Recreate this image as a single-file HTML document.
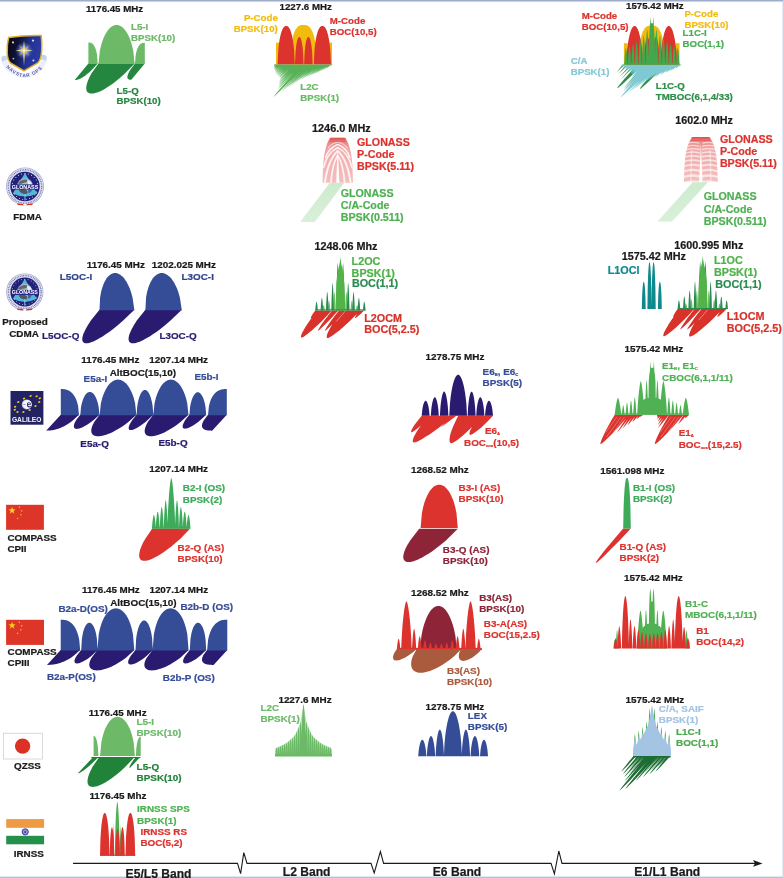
<!DOCTYPE html>
<html><head><meta charset="utf-8"><title>GNSS signal spectra</title>
<style>
html,body{margin:0;padding:0;background:#fff;}
body{width:783px;height:878px;overflow:hidden;position:relative;}
svg{position:absolute;left:0;top:0;display:block;will-change:transform;}
svg text{font-family:"Liberation Sans",Arial,Helvetica,sans-serif;font-weight:bold;stroke-width:0.22px;stroke-linejoin:round;}
</style></head><body>
<svg width="783" height="878" viewBox="0 0 783 878">
<defs>
<linearGradient id="topg" x1="0" y1="0" x2="0" y2="1"><stop offset="0" stop-color="#8799bb"/><stop offset="0.45" stop-color="#b9c7de"/><stop offset="1" stop-color="#ffffff"/></linearGradient>
</defs>
<rect x="0" y="0" width="783" height="878" fill="#ffffff"/>
<rect x="0" y="0" width="783" height="2.6" fill="url(#topg)"/>
<rect x="0" y="876.6" width="783" height="1.4" fill="#a9c6ea"/>
<rect x="782" y="2" width="1" height="875" fill="#e6ebf6"/>
<path d="M73,863.4 L237.5,863.4 L240.6,873.6 L243.8,852.6 L247,863.4 L371,863.4 L374.2,873 L380.4,851.6 L383.6,863.4 L551,863.4 L554.4,873.8 L558.8,851 L562,863.4 L756,863.4" fill="none" stroke="#1a1a1a" stroke-width="1.1" stroke-linejoin="miter"/>
<path d="M762.5,863.4 L753,860 L755,863.4 L753,866.8 Z" fill="#1a1a1a"/>
<text x="125.6" y="877.8" fill="#1a1a1a" stroke="#1a1a1a" font-size="12.1">E5/L5 Band</text>
<text x="282.8" y="875.8" fill="#1a1a1a" stroke="#1a1a1a" font-size="12.1">L2 Band</text>
<text x="432.8" y="875.5" fill="#1a1a1a" stroke="#1a1a1a" font-size="12.1">E6 Band</text>
<text x="634.3" y="875.5" fill="#1a1a1a" stroke="#1a1a1a" font-size="12.1">E1/L1 Band</text>
<g id="gpslogo">
<defs>
<linearGradient id="shg" x1="0" y1="0" x2="1" y2="0.25"><stop offset="0" stop-color="#08080e"/><stop offset="0.32" stop-color="#0e1030"/><stop offset="0.72" stop-color="#24339a"/><stop offset="1" stop-color="#2b3aa0"/></linearGradient>
<radialGradient id="shr" cx="0.5" cy="0.5" r="0.5"><stop offset="0" stop-color="#eef2ff" stop-opacity="0.95"/><stop offset="0.45" stop-color="#8fa6e8" stop-opacity="0.7"/><stop offset="1" stop-color="#3043a8" stop-opacity="0"/></radialGradient>
<path id="gpsarc" d="M5.6,66.8 Q11,72.6 17,75.2 Q24,78.6 33,75.2 Q41,71.6 47.6,61.5" fill="none"/>
</defs>
<path d="M1.2,57.5 Q3,54.8 6.5,55.8 L8,62 Q12,68.5 24,74.8 Q36,69.5 40.5,62.5 L41.6,55 Q45,53.6 46.8,56.8 Q47.4,62 43.5,67.5 Q36,76.5 24.5,78.2 Q12,76 5,68.2 Q1.6,63.5 1.2,57.5 Z" fill="#eceefa"/>
<path d="M1.4,57.6 Q3,55.2 6.3,56 L6.9,60 Q3.6,59.4 2.2,62.5 Z" fill="#c4d3ee"/>
<path d="M46.7,56.9 Q45,54 41.8,55.2 L41.2,59.6 Q44.2,58.8 46.2,61.8 Z" fill="#bcd6f0"/>
<path d="M8.6,37.6 Q24,35.2 41.2,35.6 Q42.4,47 41.2,55 Q40.4,60.6 37.4,63.2 L24,70.9 L10.4,63 Q7.4,59.6 7.2,53 Q6.8,45 8.6,37.6 Z" fill="url(#shg)" stroke="#e0b125" stroke-width="1.5" stroke-linejoin="round"/>
<circle cx="24.2" cy="50.6" r="9.2" fill="url(#shr)"/>
<path d="M24,40.5 L25,49.2 L33,50.4 L25,51.8 L24,66 L23,51.8 L15.4,50.4 L23,49.2 Z" fill="#e9d88e"/>
<path d="M18.4,44.6 L24,49.8 L29.8,44.8 L24.9,50.5 L29.6,56 L24,51.4 L18.6,56.2 L23.1,50.5 Z" fill="#d9c56a"/>
<circle cx="24" cy="50.5" r="1.3" fill="#fffbe6"/>
<circle cx="13" cy="42.4" r="1.1" fill="#d7c9c9"/><circle cx="33" cy="40.6" r="1.1" fill="#d9dcea"/>
<circle cx="13.4" cy="58.6" r="0.9" fill="#b9bdd2"/><circle cx="33.4" cy="60.4" r="1" fill="#cfd4ea"/>
<text font-size="4.7" fill="#5656ac" letter-spacing="0.85"><textPath href="#gpsarc" startOffset="0.4">NAVSTAR GPS</textPath></text>
</g>
<g transform="translate(25,186.5) scale(1)">
<circle r="19" fill="#a9afd0"/>
<circle r="18.2" fill="#e6e8f3"/>
<circle r="16.7" fill="none" stroke="#6f76ac" stroke-width="1.5" stroke-dasharray="0.9 0.8"/>
<circle r="15.4" fill="#d6d9ea"/>
<circle r="14.7" fill="#22207a"/>
<path d="M0,-13.6 L12.2,7.0 Q0,13.2 -12.2,7.0 Z" fill="#52b7dd"/>
<circle cx="0" cy="-0.3" r="8" fill="#a7bace"/>
<path d="M-7,-3.5 Q-3,-8.5 4,-6.5 Q1,-3 -2,-3.5 Q-5,-1.5 -7,-3.5Z" fill="#5d6a66"/>
<path d="M2,-6.8 Q7,-5 7.6,0 Q5,-2.5 3,-2 Z" fill="#e9eef5"/>
<path d="M-6.5,3.5 Q-2,1.5 2,4 Q4,6.5 1,7.6 Q-4,8 -6.5,3.5Z" fill="#4b5960"/>
<path d="M3,3.4 Q6.5,2 7.4,3 Q6,6.5 3.6,7 Z" fill="#3f62a8"/>
<rect x="-13.6" y="-2.1" width="27.2" height="5.2" fill="#2a2a86"/>
<text x="0" y="2.5" font-size="5.9" fill="#ffffff" text-anchor="middle" textLength="26.5" lengthAdjust="spacingAndGlyphs">GLONASS</text>
<g fill="#ffffff"><circle cx="-12.46" cy="-3.34" r="0.5"/><circle cx="-11.17" cy="-6.45" r="0.5"/><circle cx="-9.12" cy="-9.12" r="0.5"/><circle cx="-6.45" cy="-11.17" r="0.5"/><circle cx="-3.34" cy="-12.46" r="0.5"/><circle cx="0" cy="-12.9" r="0.5"/><circle cx="3.34" cy="-12.46" r="0.5"/><circle cx="6.45" cy="-11.17" r="0.5"/><circle cx="9.12" cy="-9.12" r="0.5"/><circle cx="11.17" cy="-6.45" r="0.5"/><circle cx="12.46" cy="-3.34" r="0.5"/><circle cx="11.69" cy="5.45" r="0.5"/><circle cx="9.88" cy="8.29" r="0.5"/><circle cx="7.4" cy="10.57" r="0.5"/><circle cx="4.41" cy="12.12" r="0.5"/><circle cx="1.12" cy="12.85" r="0.5"/><circle cx="-2.24" cy="12.7" r="0.5"/><circle cx="-5.45" cy="11.69" r="0.5"/><circle cx="-8.29" cy="9.88" r="0.5"/><circle cx="-10.57" cy="7.4" r="0.5"/></g>
<rect x="-0.45" y="7.5" width="0.9" height="6.5" fill="#8fd6ea"/>
<path d="M-8,16.9 L-1.6,17.4 L-1.4,18.8 L-7.2,18.4Z" fill="#d8322c"/>
<path d="M8,16.9 L1.6,17.4 L1.4,18.8 L7.2,18.4Z" fill="#d8322c"/>
<path d="M-1.6,17.4 L1.6,17.4 L1.4,18.8 L-1.4,18.8Z" fill="#ffffff"/>
</g>
<text x="13.3" y="220.2" fill="#1a1a1a" stroke="#1a1a1a" font-size="9.9">FDMA</text>
<g transform="translate(24.8,292) scale(0.98)">
<circle r="19" fill="#a9afd0"/>
<circle r="18.2" fill="#e6e8f3"/>
<circle r="16.7" fill="none" stroke="#6f76ac" stroke-width="1.5" stroke-dasharray="0.9 0.8"/>
<circle r="15.4" fill="#d6d9ea"/>
<circle r="14.7" fill="#22207a"/>
<path d="M0,-13.6 L12.2,7.0 Q0,13.2 -12.2,7.0 Z" fill="#52b7dd"/>
<circle cx="0" cy="-0.3" r="8" fill="#a7bace"/>
<path d="M-7,-3.5 Q-3,-8.5 4,-6.5 Q1,-3 -2,-3.5 Q-5,-1.5 -7,-3.5Z" fill="#5d6a66"/>
<path d="M2,-6.8 Q7,-5 7.6,0 Q5,-2.5 3,-2 Z" fill="#e9eef5"/>
<path d="M-6.5,3.5 Q-2,1.5 2,4 Q4,6.5 1,7.6 Q-4,8 -6.5,3.5Z" fill="#4b5960"/>
<path d="M3,3.4 Q6.5,2 7.4,3 Q6,6.5 3.6,7 Z" fill="#3f62a8"/>
<rect x="-13.6" y="-2.1" width="27.2" height="5.2" fill="#2a2a86"/>
<text x="0" y="2.5" font-size="5.9" fill="#ffffff" text-anchor="middle" textLength="26.5" lengthAdjust="spacingAndGlyphs">GLONASS</text>
<g fill="#ffffff"><circle cx="-12.46" cy="-3.34" r="0.5"/><circle cx="-11.17" cy="-6.45" r="0.5"/><circle cx="-9.12" cy="-9.12" r="0.5"/><circle cx="-6.45" cy="-11.17" r="0.5"/><circle cx="-3.34" cy="-12.46" r="0.5"/><circle cx="0" cy="-12.9" r="0.5"/><circle cx="3.34" cy="-12.46" r="0.5"/><circle cx="6.45" cy="-11.17" r="0.5"/><circle cx="9.12" cy="-9.12" r="0.5"/><circle cx="11.17" cy="-6.45" r="0.5"/><circle cx="12.46" cy="-3.34" r="0.5"/><circle cx="11.69" cy="5.45" r="0.5"/><circle cx="9.88" cy="8.29" r="0.5"/><circle cx="7.4" cy="10.57" r="0.5"/><circle cx="4.41" cy="12.12" r="0.5"/><circle cx="1.12" cy="12.85" r="0.5"/><circle cx="-2.24" cy="12.7" r="0.5"/><circle cx="-5.45" cy="11.69" r="0.5"/><circle cx="-8.29" cy="9.88" r="0.5"/><circle cx="-10.57" cy="7.4" r="0.5"/></g>
<rect x="-0.45" y="7.5" width="0.9" height="6.5" fill="#8fd6ea"/>
<path d="M-8,16.9 L-1.6,17.4 L-1.4,18.8 L-7.2,18.4Z" fill="#d8322c"/>
<path d="M8,16.9 L1.6,17.4 L1.4,18.8 L7.2,18.4Z" fill="#d8322c"/>
<path d="M-1.6,17.4 L1.6,17.4 L1.4,18.8 L-1.4,18.8Z" fill="#ffffff"/>
</g>
<text x="2.2" y="325.2" fill="#1a1a1a" stroke="#1a1a1a" font-size="9.9">Proposed</text>
<text x="9.2" y="336.6" fill="#1a1a1a" stroke="#1a1a1a" font-size="9.9">CDMA</text>
<g id="gal">
<rect x="10.5" y="391" width="32.9" height="33.7" fill="#232364"/>
<g fill="#f0cf1e"><ellipse cx="30.6" cy="395.9" rx="1.25" ry="0.85" transform="rotate(-25 30.6 395.9)"/><ellipse cx="36.6" cy="396.2" rx="1.25" ry="0.85" transform="rotate(-25 36.6 396.2)"/><ellipse cx="39.8" cy="398.3" rx="1.25" ry="0.85" transform="rotate(-25 39.8 398.3)"/><ellipse cx="39.2" cy="402" rx="1.25" ry="0.85" transform="rotate(-25 39.2 402)"/><ellipse cx="35.5" cy="406" rx="1.25" ry="0.85" transform="rotate(-25 35.5 406)"/><ellipse cx="29.7" cy="410" rx="1.25" ry="0.85" transform="rotate(-25 29.7 410)"/><ellipse cx="23.4" cy="412" rx="1.25" ry="0.85" transform="rotate(-25 23.4 412)"/><ellipse cx="17.5" cy="412" rx="1.25" ry="0.85" transform="rotate(-25 17.5 412)"/><ellipse cx="14.8" cy="409.8" rx="1.25" ry="0.85" transform="rotate(-25 14.8 409.8)"/><ellipse cx="15.1" cy="406.7" rx="1.25" ry="0.85" transform="rotate(-25 15.1 406.7)"/><ellipse cx="18.3" cy="402.1" rx="1.25" ry="0.85" transform="rotate(-25 18.3 402.1)"/><ellipse cx="24" cy="398.5" rx="1.25" ry="0.85" transform="rotate(-25 24 398.5)"/></g>
<circle cx="26.6" cy="404.5" r="4.9" fill="#b9b9dc"/>
<circle cx="27.3" cy="404.4" r="4.5" fill="#f6f6fd"/>
<path d="M27.2,403.1 Q28.8,401.6 30.5,403 Q31,404 30.8,404.7 L27.9,404.7 Q28,406.1 29.3,406.3 Q30.2,406.3 30.8,405.8 L30.8,407 Q29.3,407.8 27.7,407 Q26.4,405.2 27.2,403.1 Z M28,403.9 L30,403.9 Q29.6,402.9 28.9,402.9 Q28.2,403 28,403.9Z" fill="#232364" fill-rule="evenodd"/>
<rect x="23.3" y="404.1" width="2.2" height="0.8" fill="#8a8ac4"/>
<text x="26.7" y="421.9" font-size="6.3" fill="#f4f4fb" text-anchor="middle" textLength="29.6" lengthAdjust="spacingAndGlyphs">GALILEO</text>
</g>
<rect x="6.1" y="504.8" width="37.8" height="25" fill="#dd3527"/>
<polygon points="12.1,506.8 12.99,509.37 15.71,509.43 13.55,511.07 14.33,513.67 12.1,512.12 9.87,513.67 10.65,511.07 8.49,509.43 11.21,509.37" fill="#f6d519"/>
<polygon points="20.07,506.2 19.92,507.01 20.62,507.44 19.81,507.54 19.62,508.34 19.27,507.6 18.45,507.67 19.05,507.1 18.73,506.35 19.45,506.74" fill="#f6d519"/>
<polygon points="22.7,510.33 22.16,510.95 22.55,511.67 21.8,511.35 21.23,511.95 21.3,511.13 20.56,510.78 21.36,510.59 21.46,509.78 21.89,510.48" fill="#f6d519"/>
<polygon points="20.9,513.75 21.17,514.53 21.99,514.54 21.34,515.04 21.58,515.83 20.9,515.36 20.22,515.83 20.46,515.04 19.81,514.54 20.63,514.53" fill="#f6d519"/>
<polygon points="18.18,517.4 18.02,518.21 18.72,518.64 17.91,518.74 17.72,519.54 17.37,518.8 16.55,518.87 17.15,518.3 16.83,517.55 17.55,517.94" fill="#f6d519"/>
<text x="7.4" y="540.6" fill="#1a1a1a" stroke="#1a1a1a" font-size="9.9">COMPASS</text>
<text x="7.4" y="551.6" fill="#1a1a1a" stroke="#1a1a1a" font-size="9.9">CPII</text>
<rect x="6.1" y="619.8" width="37.9" height="25.1" fill="#dd3527"/>
<polygon points="12.1,621.8 12.99,624.37 15.71,624.43 13.55,626.07 14.33,628.67 12.1,627.12 9.87,628.67 10.65,626.07 8.49,624.43 11.21,624.37" fill="#f6d519"/>
<polygon points="20.07,621.2 19.92,622.01 20.62,622.44 19.81,622.54 19.62,623.34 19.27,622.6 18.45,622.67 19.05,622.1 18.73,621.35 19.45,621.74" fill="#f6d519"/>
<polygon points="22.7,625.32 22.16,625.95 22.55,626.67 21.8,626.35 21.23,626.95 21.3,626.13 20.56,625.78 21.36,625.59 21.46,624.78 21.89,625.48" fill="#f6d519"/>
<polygon points="20.9,628.75 21.17,629.53 21.99,629.54 21.34,630.04 21.58,630.83 20.9,630.36 20.22,630.83 20.46,630.04 19.81,629.54 20.63,629.53" fill="#f6d519"/>
<polygon points="18.18,632.4 18.02,633.21 18.72,633.64 17.91,633.74 17.72,634.54 17.37,633.8 16.55,633.87 17.15,633.3 16.83,632.55 17.55,632.94" fill="#f6d519"/>
<text x="7.5" y="654.9" fill="#1a1a1a" stroke="#1a1a1a" font-size="9.9">COMPASS</text>
<text x="7.5" y="666" fill="#1a1a1a" stroke="#1a1a1a" font-size="9.9">CPIII</text>
<rect x="3.6" y="733.2" width="39" height="25.8" fill="#ffffff" stroke="#c9c9c9" stroke-width="0.7"/>
<circle cx="22.6" cy="746.1" r="7.7" fill="#dc3226"/>
<text x="14" y="768.8" fill="#1a1a1a" stroke="#1a1a1a" font-size="9.9">QZSS</text>
<rect x="6.2" y="819.1" width="37.9" height="8.8" fill="#ee9a45"/>
<rect x="6.2" y="827.9" width="37.9" height="7.9" fill="#ffffff"/>
<rect x="6.2" y="835.8" width="37.9" height="8.5" fill="#24904a"/>
<circle cx="25.2" cy="831.9" r="3.1" fill="#8f93cf" stroke="#3b3f9c" stroke-width="1.0"/>
<circle cx="25.2" cy="831.9" r="1.0" fill="#3b3f9c"/>
<text x="13.7" y="857.1" fill="#1a1a1a" stroke="#1a1a1a" font-size="9.9">IRNSS</text>
<text x="86" y="12" fill="#1a1a1a" stroke="#1a1a1a" font-size="9.7">1176.45 MHz</text>
<path d="M98.5,63.4 L91.56,73.36 L89.21,77.78 L87.79,81.05 L86.92,83.67 L86.43,85.82 L86.23,87.62 L86.28,89.13 L86.54,90.38 L86.98,91.4 L87.6,92.22 L88.37,92.84 L89.3,93.28 L90.37,93.54 L91.59,93.62 L92.95,93.54 L94.46,93.28 L96.11,92.84 L97.91,92.22 L99.87,91.4 L102.01,90.38 L104.33,89.13 L106.86,87.62 L109.64,85.82 L112.71,83.67 L116.16,81.05 L120.15,77.78 L125.09,73.36 L134.6,63.4Z M88.4,63.4 L74.7,79.98 L75.29,79.98 L75.9,79.95 L76.54,79.88 L77.22,79.76 L77.95,79.58 L78.74,79.32 L79.6,78.99 L80.53,78.56 L81.57,78.01 L82.71,77.33 L83.99,76.49 L85.44,75.44 L87.11,74.11 L89.12,72.38 L91.74,69.92 L97.7,63.4Z M135,63.4 L130.3,69.83 L128.91,72.26 L128.12,73.96 L127.65,75.27 L127.41,76.3 L127.33,77.13 L127.39,77.8 L127.56,78.34 L127.82,78.77 L128.16,79.1 L128.57,79.35 L129.03,79.53 L129.55,79.65 L130.1,79.72 L130.69,79.75 L131.3,79.75 L144.8,63.4Z" fill="#25873f"/>
<path d="M98.5,63.9 L99.79,51.08 L101.08,45.4 L102.37,41.18 L103.66,37.82 L104.95,35.04 L106.24,32.72 L107.53,30.79 L108.81,29.18 L110.1,27.86 L111.39,26.81 L112.68,26.01 L113.97,25.45 L115.26,25.11 L116.55,25 L117.84,25.11 L119.13,25.45 L120.42,26.01 L121.71,26.81 L123,27.86 L124.29,29.18 L125.57,30.79 L126.86,32.72 L128.15,35.04 L129.44,37.82 L130.73,41.18 L132.02,45.4 L133.31,51.08 L134.6,63.9Z M88.4,63.9 L88.4,42.5 L88.98,42.51 L89.56,42.55 L90.14,42.64 L90.73,42.79 L91.31,43.03 L91.89,43.35 L92.47,43.79 L93.05,44.34 L93.63,45.05 L94.21,45.93 L94.79,47.02 L95.38,48.37 L95.96,50.08 L96.54,52.31 L97.12,55.49 L97.7,63.9Z M135,63.9 L135.61,55.61 L136.22,52.47 L136.84,50.27 L137.45,48.59 L138.06,47.25 L138.68,46.18 L139.29,45.31 L139.9,44.62 L140.51,44.07 L141.12,43.64 L141.74,43.32 L142.35,43.09 L142.96,42.94 L143.58,42.85 L144.19,42.81 L144.8,42.8 L144.8,63.9Z" fill="#6cba68"/>
<text x="131" y="30.4" fill="#6cba68" stroke="#6cba68" font-size="9.7">L5-I</text>
<text x="131" y="40.9" fill="#6cba68" stroke="#6cba68" font-size="9.7">BPSK(10)</text>
<text x="116.6" y="93.8" fill="#25873f" stroke="#25873f" font-size="9.7">L5-Q</text>
<text x="116.6" y="104.3" fill="#25873f" stroke="#25873f" font-size="9.7">BPSK(10)</text>
<text x="279.6" y="9.9" fill="#1a1a1a" stroke="#1a1a1a" font-size="9.7">1227.6 MHz</text>
<path d="M301.4,64.3 L291.42,75.63 L284.46,83.69 L279.07,90.04 L275.19,94.76 L273.32,97.28 L276.11,94.76 L280.91,90.04 L287.22,83.69 L295.1,75.63 L306,64.3Z M305.4,64.3 L290.7,80.6 L283.96,88.26 L281.15,91.65 L284.58,88.26 L291.95,80.6 L307.27,64.3Z M300.12,64.3 L286.48,79.46 L280.23,86.58 L277.64,89.74 L280.85,86.58 L287.73,79.46 L302,64.3Z M306.9,64.3 L293.54,79.14 L287.43,86.11 L284.9,89.2 L288.06,86.11 L294.79,79.14 L308.77,64.3Z M298.62,64.3 L286.23,78.1 L280.56,84.59 L278.23,87.46 L281.19,84.59 L287.48,78.1 L300.5,64.3Z M308.4,64.3 L296.06,78.04 L290.43,84.49 L288.11,87.35 L291.05,84.49 L297.31,78.04 L310.27,64.3Z M297.12,64.3 L285.67,77.07 L280.45,83.08 L278.32,85.74 L281.08,83.08 L286.92,77.07 L299,64.3Z M309.9,64.3 L298.58,76.93 L293.42,82.87 L291.31,85.5 L294.05,82.87 L299.83,76.93 L311.77,64.3Z M295.62,64.3 L285.12,76.05 L280.34,81.57 L278.4,84.02 L280.97,81.57 L286.37,76.05 L297.5,64.3Z M311.4,64.3 L301.41,75.49 L296.88,80.75 L295.04,83.08 L297.5,80.75 L302.66,75.49 L313.27,64.3Z M294.12,64.3 L284.85,74.7 L280.66,79.59 L278.98,81.76 L281.29,79.59 L286.1,74.7 L296,64.3Z M312.9,64.3 L304.39,73.88 L300.55,78.38 L299.03,80.38 L301.18,78.38 L305.64,73.88 L314.77,64.3Z M292.62,64.3 L284.73,73.21 L281.19,77.4 L279.79,79.25 L281.81,77.4 L285.98,73.21 L294.5,64.3Z M314.4,64.3 L306.47,73.25 L302.91,77.45 L301.51,79.32 L303.54,77.45 L307.72,73.25 L316.27,64.3Z M291.12,64.3 L283.77,72.62 L280.48,76.53 L279.2,78.27 L281.11,76.53 L285.02,72.62 L293,64.3Z M315.9,64.3 L308.55,72.62 L305.27,76.52 L303.98,78.26 L305.89,76.52 L309.8,72.62 L317.77,64.3Z M289.62,64.3 L282.81,72.03 L279.78,75.67 L278.61,77.28 L280.4,75.67 L284.06,72.03 L291.5,64.3Z M317.4,64.3 L310.62,72 L307.6,75.62 L306.44,77.22 L308.23,75.62 L311.87,72 L319.27,64.3Z M288.12,64.3 L281.84,71.46 L279.06,74.83 L277.99,76.32 L279.68,74.83 L283.09,71.46 L290,64.3Z M318.9,64.3 L312.62,71.46 L309.83,74.83 L308.77,76.32 L310.45,74.83 L313.87,71.46 L320.77,64.3Z M286.62,64.3 L280.8,70.96 L278.23,74.09 L277.27,75.48 L278.86,74.09 L282.05,70.96 L288.5,64.3Z M320.4,64.3 L314.61,70.92 L312.06,74.04 L311.1,75.41 L312.68,74.04 L315.86,70.92 L322.27,64.3Z M285.12,64.3 L279.76,70.46 L277.41,73.35 L276.54,74.64 L278.04,73.35 L281.01,70.46 L287,64.3Z M321.9,64.3 L316.61,70.38 L314.29,73.24 L313.43,74.51 L314.91,73.24 L317.86,70.38 L323.77,64.3Z M283.62,64.3 L278.73,69.96 L276.59,72.62 L275.82,73.8 L277.21,72.62 L279.98,69.96 L285.5,64.3Z M323.4,64.3 L318.74,69.69 L316.72,72.23 L316,73.35 L317.35,72.23 L319.99,69.69 L325.27,64.3Z M282.12,64.3 L277.82,69.32 L275.96,71.67 L275.31,72.72 L276.58,71.67 L279.07,69.32 L284,64.3Z M324.9,64.3 L320.96,68.91 L319.28,71.08 L318.7,72.04 L319.9,71.08 L322.21,68.91 L326.77,64.3Z M280.62,64.3 L276.98,68.59 L275.44,70.61 L274.93,71.5 L276.06,70.61 L278.23,68.59 L282.5,64.3Z M326.4,64.3 L323.17,68.14 L321.82,69.95 L321.4,70.75 L322.45,69.95 L324.42,68.14 L328.27,64.3Z M279.12,64.3 L276.15,67.87 L274.91,69.55 L274.54,70.3 L275.54,69.55 L277.4,67.87 L281,64.3Z M327.9,64.3 L325.38,67.38 L324.35,68.83 L324.08,69.47 L324.98,68.83 L326.63,67.38 L329.77,64.3Z M277.62,64.3 L275.3,67.16 L274.37,68.51 L274.13,69.11 L275,68.51 L276.55,67.16 L279.5,64.3Z M329.4,64.3 L327.64,66.54 L326.99,67.6 L326.87,68.07 L327.61,67.6 L328.89,66.54 L331.27,64.3Z M276.12,64.3 L274.51,66.39 L273.92,67.37 L273.84,67.8 L274.55,67.37 L275.76,66.39 L278,64.3Z M330.9,64.3 L330.25,65.34 L330.12,65.83 L330.23,66.05 L330.74,65.83 L331.5,65.34 L332.77,64.3Z M274.62,64.3 L274.05,65.27 L273.94,65.72 L274.07,65.92 L274.56,65.72 L275.3,65.27 L276.5,64.3Z" fill="#57b257"/>
<path d="M290,64.3 L290.96,47.29 L291.93,41.03 L292.89,36.76 L293.86,33.6 L294.82,31.19 L295.79,29.34 L296.75,27.93 L297.71,26.88 L298.68,26.12 L299.64,25.59 L300.61,25.26 L301.57,25.08 L302.54,25.01 L303.5,25 L304.46,25.01 L305.43,25.08 L306.39,25.26 L307.36,25.59 L308.32,26.12 L309.29,26.88 L310.25,27.93 L311.21,29.34 L312.18,31.19 L313.14,33.6 L314.11,36.76 L315.07,41.03 L316.04,47.29 L317,64.3Z" fill="#f2bc0f"/>
<rect x="276" y="42.6" width="3" height="21.7" fill="#f2bc0f"/>
<rect x="329.2" y="42.6" width="2.8" height="21.7" fill="#f2bc0f"/>
<path d="M277.6,64.3 L278.26,50.19 L278.92,44.1 L279.58,39.72 L280.25,36.32 L280.91,33.63 L281.57,31.48 L282.23,29.77 L282.89,28.44 L283.55,27.45 L284.22,26.74 L284.88,26.29 L285.54,26.06 L286.2,26 L286.86,26.06 L287.52,26.29 L288.18,26.74 L288.85,27.45 L289.51,28.44 L290.17,29.77 L290.83,31.48 L291.49,33.63 L292.15,36.32 L292.82,39.72 L293.48,44.1 L294.14,50.19 L294.8,64.3Z M313.8,64.3 L314.46,50.19 L315.12,44.1 L315.78,39.72 L316.45,36.32 L317.11,33.63 L317.77,31.48 L318.43,29.77 L319.09,28.44 L319.75,27.45 L320.42,26.74 L321.08,26.29 L321.74,26.06 L322.4,26 L323.06,26.06 L323.72,26.29 L324.38,26.74 L325.05,27.45 L325.71,28.44 L326.37,29.77 L327.03,31.48 L327.69,33.63 L328.35,36.32 L329.02,39.72 L329.68,44.1 L330.34,50.19 L331,64.3Z M295,64.3 L295.54,51.95 L296.07,46.7 L296.61,43.14 L297.15,40.62 L297.69,38.88 L298.23,37.76 L298.76,37.16 L299.3,37 L299.84,37.16 L300.38,37.76 L300.91,38.88 L301.45,40.62 L301.99,43.14 L302.53,46.7 L303.06,51.95 L303.6,64.3Z M304.1,64.3 L304.64,51.95 L305.18,46.7 L305.71,43.14 L306.25,40.62 L306.79,38.88 L307.32,37.76 L307.86,37.16 L308.4,37 L308.94,37.16 L309.48,37.76 L310.01,38.88 L310.55,40.62 L311.09,43.14 L311.62,46.7 L312.16,51.95 L312.7,64.3Z" fill="#dc332e"/>
<text x="277.8" y="21" fill="#f2bc0f" stroke="#f2bc0f" font-size="9.7" text-anchor="end">P-Code</text>
<text x="277.8" y="31.7" fill="#f2bc0f" stroke="#f2bc0f" font-size="9.7" text-anchor="end">BPSK(10)</text>
<text x="329.8" y="24.1" fill="#dc332e" stroke="#dc332e" font-size="9.7">M-Code</text>
<text x="329.8" y="34.8" fill="#dc332e" stroke="#dc332e" font-size="9.7">BOC(10,5)</text>
<text x="300.3" y="89.9" fill="#6cba68" stroke="#6cba68" font-size="9.7">L2C</text>
<text x="300.3" y="100.5" fill="#6cba68" stroke="#6cba68" font-size="9.7">BPSK(1)</text>
<text x="626" y="8.7" fill="#1a1a1a" stroke="#1a1a1a" font-size="9.7">1575.42 MHz</text>
<path d="M637.2,64.6 L627.86,74.89 L623.21,80.24 L620.17,83.9 L618.29,86.33 L617.38,87.74 L617.38,88.2 L618.25,87.74 L620.02,86.33 L622.77,83.9 L626.68,80.24 L632.19,74.89 L642.4,64.6Z M660.4,64.6 L650.74,75.24 L645.94,80.77 L642.8,84.55 L640.85,87.07 L639.92,88.52 L639.92,89 L640.82,88.52 L642.65,87.07 L645.5,84.55 L649.54,80.77 L655.24,75.24 L665.8,64.6Z M622.85,64.6 L620.39,67.53 L618.2,70.17 L616.58,72.2 L618.83,70.17 L621.65,67.53 L624.75,64.6Z M626.35,64.6 L623.15,68.3 L620.3,71.63 L618.18,74.2 L620.94,71.63 L624.42,68.3 L628.25,64.6Z M630.35,64.6 L626.04,69.47 L622.19,73.86 L619.29,77.24 L622.82,73.86 L627.31,69.47 L632.25,64.6Z M633.85,64.6 L628.75,70.3 L624.19,75.44 L620.74,79.4 L624.82,75.44 L630.02,70.3 L635.75,64.6Z M666.35,64.6 L661.84,69.69 L657.8,74.27 L654.76,77.8 L658.43,74.27 L663.1,69.69 L668.25,64.6Z M669.45,64.6 L665.9,68.67 L662.74,72.33 L660.37,75.16 L663.37,72.33 L667.17,68.67 L671.35,64.6Z M672.65,64.6 L669.95,67.77 L667.55,70.64 L665.77,72.84 L668.18,70.64 L671.22,67.77 L674.55,64.6Z M675.65,64.6 L673.74,66.94 L672.05,69.05 L670.82,70.68 L672.69,69.05 L675.01,66.94 L677.55,64.6Z M678.25,64.6 L677.16,66.08 L676.21,67.41 L675.55,68.44 L676.84,67.41 L678.43,66.08 L680.15,64.6Z M644.85,64.6 L636.38,73.85 L628.78,82.18 L623,88.6 L629.42,82.18 L637.65,73.85 L646.75,64.6Z M647.85,64.6 L638.5,74.77 L630.11,83.94 L623.72,91 L630.75,83.94 L639.77,74.77 L649.75,64.6Z M655.85,64.6 L649.73,71.38 L644.24,77.49 L640.08,82.2 L644.87,77.49 L650.99,71.38 L657.75,64.6Z" fill="#2b8f47"/>
<path d="M647.6,64.6 L642.7,70.39 L638.02,75.94 L633.61,81.22 L629.5,86.18 L625.77,90.74 L622.57,94.74 L620.41,97.64 L623.77,94.74 L628.17,90.74 L633.1,86.18 L638.41,81.22 L644.02,75.94 L649.9,70.39 L656,64.6Z M653.8,64.6 L638.7,80.91 L631.18,89.25 L628.01,93.01 L631.98,89.25 L640.3,80.91 L656.2,64.6Z M647.4,64.6 L633.08,80.1 L625.95,88.02 L622.96,91.59 L626.75,88.02 L634.68,80.1 L649.8,64.6Z M655.4,64.6 L641.45,79.7 L634.52,87.42 L631.62,90.9 L635.32,87.42 L643.05,79.7 L657.8,64.6Z M645.8,64.6 L632.57,78.95 L626.01,86.28 L623.27,89.58 L626.81,86.28 L634.17,78.95 L648.2,64.6Z M657,64.6 L644.25,78.45 L637.92,85.52 L635.29,88.71 L638.72,85.52 L645.85,78.45 L659.4,64.6Z M644.2,64.6 L636.44,73.19 L632.68,77.57 L631.2,79.55 L633.48,77.57 L638.04,73.19 L646.6,64.6Z M658.6,64.6 L647.64,76.55 L642.24,82.66 L640.03,85.42 L643.04,82.66 L649.24,76.55 L661,64.6Z M642.6,64.6 L635.96,72.01 L632.76,75.8 L631.54,77.51 L633.56,75.8 L637.56,72.01 L645,64.6Z M660.2,64.6 L650.74,74.98 L646.1,80.28 L644.23,82.67 L646.9,80.28 L652.34,74.98 L662.6,64.6Z M641,64.6 L635.29,71.03 L632.56,74.32 L631.56,75.8 L633.36,74.32 L636.89,71.03 L643.4,64.6Z M661.8,64.6 L653.45,73.81 L649.38,78.52 L647.76,80.64 L650.18,78.52 L655.05,73.81 L664.2,64.6Z M639.4,64.6 L634.38,70.31 L632,73.23 L631.15,74.54 L632.8,73.23 L635.98,70.31 L641.8,64.6Z M663.4,64.6 L656.07,72.74 L652.52,76.9 L651.14,78.77 L653.32,76.9 L657.67,72.74 L665.8,64.6Z M637.8,64.6 L633.41,69.65 L631.36,72.22 L630.65,73.39 L632.16,72.22 L635.01,69.65 L640.2,64.6Z M665,64.6 L658.49,71.87 L655.36,75.59 L654.17,77.27 L656.16,75.59 L660.09,71.87 L667.4,64.6Z M636.2,64.6 L632.32,69.11 L630.53,71.41 L629.94,72.45 L631.33,71.41 L633.92,69.11 L638.6,64.6Z M666.6,64.6 L660.91,71.01 L658.2,74.29 L657.19,75.77 L659,74.29 L662.51,71.01 L669,64.6Z M634.6,64.6 L631.22,68.58 L629.69,70.61 L629.22,71.52 L630.49,70.61 L632.82,68.58 L637,64.6Z M668.2,64.6 L663.18,70.3 L660.81,73.22 L659.97,74.53 L661.61,73.22 L664.78,70.3 L670.6,64.6Z M633,64.6 L630.04,68.14 L628.73,69.94 L628.35,70.76 L629.53,69.94 L631.64,68.14 L635.4,64.6Z M669.8,64.6 L665.27,69.79 L663.15,72.44 L662.41,73.64 L663.95,72.44 L666.87,69.79 L672.2,64.6Z M631.4,64.6 L628.74,67.82 L627.58,69.46 L627.28,70.2 L628.38,69.46 L630.34,67.82 L633.8,64.6Z M671.4,64.6 L667.36,69.28 L665.48,71.67 L664.86,72.75 L666.28,71.67 L668.96,69.28 L673.8,64.6Z M629.8,64.6 L627.44,67.5 L626.44,68.98 L626.2,69.65 L627.24,68.98 L629.04,67.5 L632.2,64.6Z M673,64.6 L669.44,68.77 L667.82,70.9 L667.31,71.86 L668.62,70.9 L671.04,68.77 L675.4,64.6Z M628.2,64.6 L626.15,67.18 L625.29,68.5 L625.13,69.1 L626.09,68.5 L627.75,67.18 L630.6,64.6Z M674.6,64.6 L671.53,68.26 L670.15,70.12 L669.75,70.97 L670.95,70.12 L673.13,68.26 L677,64.6Z M626.6,64.6 L624.85,66.87 L624.15,68.02 L624.05,68.55 L624.95,68.02 L626.45,66.87 L629,64.6Z M676.2,64.6 L673.91,67.44 L672.93,68.89 L672.71,69.54 L673.73,68.89 L675.51,67.44 L678.6,64.6Z M625,64.6 L623.73,66.36 L623.28,67.26 L623.29,67.66 L624.08,67.26 L625.33,66.36 L627.4,64.6Z M677.8,64.6 L676.57,66.31 L676.14,67.19 L676.17,67.58 L676.94,67.19 L678.17,66.31 L680.2,64.6Z M623.4,64.6 L622.79,65.66 L622.68,66.2 L622.84,66.45 L623.48,66.2 L624.39,65.66 L625.8,64.6Z M679.4,64.6 L678.75,65.7 L678.62,66.27 L678.77,66.52 L679.42,66.27 L680.35,65.7 L681.8,64.6Z M621.8,64.6 L621.55,65.28 L621.62,65.63 L621.87,65.79 L622.42,65.63 L623.15,65.28 L624.2,64.6Z" fill="#7fc9d4"/>
<path d="M638,64.6 L638.97,47.63 L639.94,41.39 L640.91,37.13 L641.89,33.98 L642.86,31.57 L643.83,29.73 L644.8,28.32 L645.77,27.27 L646.74,26.51 L647.71,25.99 L648.69,25.66 L649.66,25.48 L650.63,25.41 L651.6,25.4 L652.57,25.41 L653.54,25.48 L654.51,25.66 L655.49,25.99 L656.46,26.51 L657.43,27.27 L658.4,28.32 L659.37,29.73 L660.34,31.57 L661.31,33.98 L662.29,37.13 L663.26,41.39 L664.23,47.63 L665.2,64.6Z" fill="#f2bc0f"/>
<rect x="623.9" y="43.2" width="3.6" height="21.4" fill="#f2bc0f"/>
<rect x="676" y="43.2" width="3.5" height="21.4" fill="#f2bc0f"/>
<path d="M626,64.6 L626.66,53.75 L627.32,47.74 L627.98,43.08 L628.65,39.28 L629.31,36.13 L629.97,33.51 L630.63,31.35 L631.29,29.61 L631.95,28.24 L632.62,27.22 L633.28,26.52 L633.94,26.12 L634.6,26 L635.26,26.12 L635.92,26.52 L636.58,27.22 L637.25,28.24 L637.91,29.61 L638.57,31.35 L639.23,33.51 L639.89,36.13 L640.55,39.28 L641.22,43.08 L641.88,47.74 L642.54,53.75 L643.2,64.6Z M660.2,64.6 L660.86,53.75 L661.52,47.74 L662.18,43.08 L662.85,39.28 L663.51,36.13 L664.17,33.51 L664.83,31.35 L665.49,29.61 L666.15,28.24 L666.82,27.22 L667.48,26.52 L668.14,26.12 L668.8,26 L669.46,26.12 L670.12,26.52 L670.78,27.22 L671.45,28.24 L672.11,29.61 L672.77,31.35 L673.43,33.51 L674.09,36.13 L674.75,39.28 L675.42,43.08 L676.08,47.74 L676.74,53.75 L677.4,64.6Z M643.4,64.6 L643.95,55.56 L644.49,49.77 L645.04,45.36 L645.59,42.01 L646.13,39.57 L646.68,37.98 L647.23,37.2 L647.77,37.2 L648.32,37.98 L648.87,39.57 L649.41,42.01 L649.96,45.36 L650.51,49.77 L651.05,55.56 L651.6,64.6Z M652,64.6 L652.53,55.56 L653.07,49.77 L653.6,45.36 L654.13,42.01 L654.67,39.57 L655.2,37.98 L655.73,37.2 L656.27,37.2 L656.8,37.98 L657.33,39.57 L657.87,42.01 L658.4,45.36 L658.93,49.77 L659.47,55.56 L660,64.6Z" fill="#dc332e"/>
<path d="M648.7,64.6 L649.12,47.63 L649.55,34.32 L649.98,23.45 L650.4,16.2 L650.83,23.45 L651.25,34.32 L651.68,47.63 L652.1,64.6Z M651.6,64.6 L652.02,47.63 L652.45,34.32 L652.88,23.45 L653.3,16.2 L653.73,23.45 L654.15,34.32 L654.58,47.63 L655,64.6Z M648.5,64.6 L649.18,36.63 L649.86,28.3 L650.54,24.58 L651.22,23.28 L651.9,23.1 L652.58,23.28 L653.26,24.58 L653.94,28.3 L654.62,36.63 L655.3,64.6Z M645.6,64.6 L646,46.69 L646.4,37.36 L646.8,31.55 L647.2,29.1 L647.6,31.55 L648,37.36 L648.4,46.69 L648.8,64.6Z M654.8,64.6 L655.2,46.69 L655.6,37.36 L656,31.55 L656.4,29.1 L656.8,31.55 L657.2,37.36 L657.6,46.69 L658,64.6Z M642.05,64.6 L642.45,49.71 L642.85,41.96 L643.25,37.14 L643.65,35.1 L644.05,37.14 L644.45,41.96 L644.85,49.71 L645.25,64.6Z M658.35,64.6 L658.75,49.71 L659.15,41.96 L659.55,37.14 L659.95,35.1 L660.35,37.14 L660.75,41.96 L661.15,49.71 L661.55,64.6Z M638.5,64.6 L638.9,51.48 L639.3,44.65 L639.7,40.4 L640.1,38.6 L640.5,40.4 L640.9,44.65 L641.3,51.48 L641.7,64.6Z M661.9,64.6 L662.3,51.48 L662.7,44.65 L663.1,40.4 L663.5,38.6 L663.9,40.4 L664.3,44.65 L664.7,51.48 L665.1,64.6Z M634.95,64.6 L635.35,52.99 L635.75,46.95 L636.15,43.19 L636.55,41.6 L636.95,43.19 L637.35,46.95 L637.75,52.99 L638.15,64.6Z M665.45,64.6 L665.85,52.99 L666.25,46.95 L666.65,43.19 L667.05,41.6 L667.45,43.19 L667.85,46.95 L668.25,52.99 L668.65,64.6Z M631.4,64.6 L631.8,54.31 L632.2,48.95 L632.6,45.61 L633,44.2 L633.4,45.61 L633.8,48.95 L634.2,54.31 L634.6,64.6Z M669,64.6 L669.4,54.31 L669.8,48.95 L670.2,45.61 L670.6,44.2 L671,45.61 L671.4,48.95 L671.8,54.31 L672.2,64.6Z M627.85,64.6 L628.25,55.21 L628.65,50.33 L629.05,47.29 L629.45,46 L629.85,47.29 L630.25,50.33 L630.65,55.21 L631.05,64.6Z M672.55,64.6 L672.95,55.21 L673.35,50.33 L673.75,47.29 L674.15,46 L674.55,47.29 L674.95,50.33 L675.35,55.21 L675.75,64.6Z M624.3,64.6 L624.7,56.12 L625.1,51.71 L625.5,48.96 L625.9,47.8 L626.3,48.96 L626.7,51.71 L627.1,56.12 L627.5,64.6Z M676.1,64.6 L676.5,56.12 L676.9,51.71 L677.3,48.96 L677.7,47.8 L678.1,48.96 L678.5,51.71 L678.9,56.12 L679.3,64.6Z" fill="#43a84c"/>
<rect x="623.9" y="63.3" width="55.6" height="1.3" fill="#43a84c"/>
<text x="581.7" y="19.2" fill="#dc332e" stroke="#dc332e" font-size="9.7">M-Code</text>
<text x="581.7" y="30" fill="#dc332e" stroke="#dc332e" font-size="9.7">BOC(10,5)</text>
<text x="684.4" y="16.6" fill="#f2bc0f" stroke="#f2bc0f" font-size="9.7">P-Code</text>
<text x="684.4" y="27.5" fill="#f2bc0f" stroke="#f2bc0f" font-size="9.7">BPSK(10)</text>
<text x="682.6" y="36.4" fill="#4aae55" stroke="#4aae55" font-size="9.7">L1C-I</text>
<text x="682.6" y="47.3" fill="#4aae55" stroke="#4aae55" font-size="9.7">BOC(1,1)</text>
<text x="570.7" y="64.4" fill="#83c9d6" stroke="#83c9d6" font-size="9.7">C/A</text>
<text x="570.7" y="75.4" fill="#83c9d6" stroke="#83c9d6" font-size="9.7">BPSK(1)</text>
<text x="655.8" y="89.4" fill="#2b8f47" stroke="#2b8f47" font-size="9.7">L1C-Q</text>
<text x="655.8" y="100.4" fill="#2b8f47" stroke="#2b8f47" font-size="9.7">TMBOC(6,1,4/33)</text>
<defs><linearGradient id="fdr" x1="0" y1="0" x2="0" y2="1"><stop offset="0" stop-color="#e25555"/><stop offset="0.07" stop-color="#ea7d7d"/><stop offset="0.25" stop-color="#f1a8a8"/><stop offset="1" stop-color="#f5bebe"/></linearGradient>
<linearGradient id="fdg" x1="0" y1="0" x2="0" y2="1"><stop offset="0" stop-color="#d2edd2"/><stop offset="1" stop-color="#e0f3e0"/></linearGradient>
<filter id="bl" x="-20%" y="-20%" width="140%" height="140%"><feGaussianBlur stdDeviation="0.45"/></filter></defs>
<path d="M329.6,182.9 L344.2,182.9 L315,222 L299.9,222 Z" fill="url(#fdg)"/>
<path d="M331.69,182.9 L302.06,222" stroke="#b4e0b4" stroke-width="0.5" fill="none" opacity="0.7"/>
<path d="M333.77,182.9 L304.21,222" stroke="#b4e0b4" stroke-width="0.5" fill="none" opacity="0.7"/>
<path d="M335.86,182.9 L306.37,222" stroke="#b4e0b4" stroke-width="0.5" fill="none" opacity="0.7"/>
<path d="M337.94,182.9 L308.53,222" stroke="#b4e0b4" stroke-width="0.5" fill="none" opacity="0.7"/>
<path d="M340.03,182.9 L310.69,222" stroke="#b4e0b4" stroke-width="0.5" fill="none" opacity="0.7"/>
<path d="M342.11,182.9 L312.84,222" stroke="#b4e0b4" stroke-width="0.5" fill="none" opacity="0.7"/>
<clipPath id="cpa"><path d="M322.6,182.7 C322.9,158 324.42,146.78 330.2,137.8 L345.2,137.8 C351.08,146.78 352.6,158 352.9,182.7 Z"/></clipPath>
<path d="M322.6,182.7 C322.9,158 324.42,146.78 330.2,137.8 L345.2,137.8 C351.08,146.78 352.6,158 352.9,182.7 Z" fill="url(#fdr)"/>
<g clip-path="url(#cpa)"><g filter="url(#bl)" fill="none" stroke="#ffffff" stroke-linecap="round"><path d="M337.75,144.98 L336.08,183.7 L339.42,183.7 Z" fill="#ffffff" stroke="none" opacity="0.95"/><path d="M337.45,144.53 Q328.58,148.18 325.63,157.56" stroke-width="1.5" opacity="0.85"/><path d="M338.05,144.53 Q346.92,148.18 349.87,157.56" stroke-width="1.5" opacity="0.85"/><path d="M337.3,147.68 Q326.96,153.21 323.51,167.43" stroke-width="1.7" opacity="0.8"/><path d="M338.2,147.68 Q348.54,153.21 351.99,167.43" stroke-width="1.7" opacity="0.8"/><path d="M337.3,151.27 Q327.86,160.32 324.72,183.6" stroke-width="2" opacity="0.8"/><path d="M338.2,151.27 Q347.64,160.32 350.78,183.6" stroke-width="2" opacity="0.8"/><path d="M337.45,155.76 Q332.45,163.55 330.78,183.6" stroke-width="1.8" opacity="0.8"/><path d="M338.05,155.76 Q343.05,163.55 344.72,183.6" stroke-width="1.8" opacity="0.8"/><path d="M337.14,142.29 Q330.55,143.8 328.36,147.68" stroke-width="1" opacity="0.7"/><path d="M338.36,142.29 Q344.95,143.8 347.14,147.68" stroke-width="1" opacity="0.7"/></g></g>
<path d="M330.8,138.3 L344.6,138.3" stroke="#df4b4b" stroke-width="0.7" opacity="0.8"/>
<path d="M330.1,139.8 L345.3,139.8" stroke="#df4b4b" stroke-width="0.7" opacity="0.8"/>
<path d="M329.4,141.3 L346,141.3" stroke="#df4b4b" stroke-width="0.7" opacity="0.8"/>
<path d="M692.6,182.3 L708,182.3 L672.3,221.6 L657.3,221.6 Z" fill="url(#fdg)"/>
<path d="M694.8,182.3 L659.44,221.6" stroke="#b4e0b4" stroke-width="0.5" fill="none" opacity="0.7"/>
<path d="M697,182.3 L661.59,221.6" stroke="#b4e0b4" stroke-width="0.5" fill="none" opacity="0.7"/>
<path d="M699.2,182.3 L663.73,221.6" stroke="#b4e0b4" stroke-width="0.5" fill="none" opacity="0.7"/>
<path d="M701.4,182.3 L665.87,221.6" stroke="#b4e0b4" stroke-width="0.5" fill="none" opacity="0.7"/>
<path d="M703.6,182.3 L668.01,221.6" stroke="#b4e0b4" stroke-width="0.5" fill="none" opacity="0.7"/>
<path d="M705.8,182.3 L670.16,221.6" stroke="#b4e0b4" stroke-width="0.5" fill="none" opacity="0.7"/>
<clipPath id="cpb"><path d="M684,182.1 C684.3,157.24 686.02,145.94 692,136.9 L709.6,136.9 C715.68,145.94 717.4,157.24 717.7,182.1 Z"/></clipPath>
<path d="M684,182.1 C684.3,157.24 686.02,145.94 692,136.9 L709.6,136.9 C715.68,145.94 717.4,157.24 717.7,182.1 Z" fill="url(#fdr)"/>
<g clip-path="url(#cpb)"><g filter="url(#bl)" fill="none" stroke="#ffffff" stroke-linecap="round"><path d="M700.85,144.13 L699,183.1 L702.7,183.1 Z" fill="#ffffff" stroke="none" opacity="0.95"/><path d="M699.16,143.12 Q691.41,141.32 683.66,143.92" stroke-width="1.04" opacity="0.62"/><path d="M702.54,143.12 Q710.29,141.32 718.04,143.92" stroke-width="1.04" opacity="0.62"/><path d="M699.16,146.05 Q691.41,144.25 683.66,146.85" stroke-width="1.17" opacity="0.62"/><path d="M702.54,146.05 Q710.29,144.25 718.04,146.85" stroke-width="1.17" opacity="0.62"/><path d="M699.16,149.27 Q691.41,147.47 683.66,150.07" stroke-width="1.31" opacity="0.62"/><path d="M702.54,149.27 Q710.29,147.47 718.04,150.07" stroke-width="1.31" opacity="0.62"/><path d="M699.16,152.79 Q691.41,150.99 683.66,153.59" stroke-width="1.47" opacity="0.62"/><path d="M702.54,152.79 Q710.29,150.99 718.04,153.59" stroke-width="1.47" opacity="0.62"/><path d="M699.16,156.66 Q691.41,154.86 683.66,157.46" stroke-width="1.64" opacity="0.62"/><path d="M702.54,156.66 Q710.29,154.86 718.04,157.46" stroke-width="1.64" opacity="0.62"/><path d="M699.16,160.91 Q691.41,159.11 683.66,161.71" stroke-width="1.83" opacity="0.62"/><path d="M702.54,160.91 Q710.29,159.11 718.04,161.71" stroke-width="1.83" opacity="0.62"/><path d="M699.16,165.56 Q691.41,163.76 683.66,166.36" stroke-width="2.03" opacity="0.62"/><path d="M702.54,165.56 Q710.29,163.76 718.04,166.36" stroke-width="2.03" opacity="0.62"/><path d="M699.16,170.68 Q691.41,168.88 683.66,171.48" stroke-width="2.26" opacity="0.62"/><path d="M702.54,170.68 Q710.29,168.88 718.04,171.48" stroke-width="2.26" opacity="0.62"/><path d="M699.16,176.29 Q691.41,174.49 683.66,177.09" stroke-width="2.51" opacity="0.62"/><path d="M702.54,176.29 Q710.29,174.49 718.04,177.09" stroke-width="2.51" opacity="0.62"/><path d="M699.16,182.44 Q691.41,180.64 683.66,183.24" stroke-width="2.78" opacity="0.62"/><path d="M702.54,182.44 Q710.29,180.64 718.04,183.24" stroke-width="2.78" opacity="0.62"/><path d="M691.58,150.46 L690.74,182.1" stroke-width="1.3" opacity="0.45"/><path d="M710.12,150.46 L710.96,182.1" stroke-width="1.3" opacity="0.45"/></g></g>
<path d="M692.6,137.4 L709,137.4" stroke="#df4b4b" stroke-width="0.7" opacity="0.8"/>
<path d="M691.9,138.9 L709.7,138.9" stroke="#df4b4b" stroke-width="0.7" opacity="0.8"/>
<path d="M691.2,140.4 L710.4,140.4" stroke="#df4b4b" stroke-width="0.7" opacity="0.8"/>
<text x="312" y="131.6" fill="#1a1a1a" stroke="#1a1a1a" font-size="10.9">1246.0 MHz</text>
<text x="357" y="145.6" fill="#dc332e" stroke="#dc332e" font-size="10.7">GLONASS</text>
<text x="357" y="157.9" fill="#dc332e" stroke="#dc332e" font-size="10.7">P-Code</text>
<text x="357" y="170.2" fill="#dc332e" stroke="#dc332e" font-size="10.7">BPSK(5.11)</text>
<text x="340.7" y="196.7" fill="#4db152" stroke="#4db152" font-size="10.7">GLONASS</text>
<text x="340.7" y="209" fill="#4db152" stroke="#4db152" font-size="10.7">C/A-Code</text>
<text x="340.7" y="221.3" fill="#4db152" stroke="#4db152" font-size="10.7">BPSK(0.511)</text>
<text x="675.3" y="123.7" fill="#1a1a1a" stroke="#1a1a1a" font-size="10.7">1602.0 MHz</text>
<text x="719.9" y="142.8" fill="#dc332e" stroke="#dc332e" font-size="10.7">GLONASS</text>
<text x="719.9" y="154.9" fill="#dc332e" stroke="#dc332e" font-size="10.7">P-Code</text>
<text x="719.9" y="167" fill="#dc332e" stroke="#dc332e" font-size="10.7">BPSK(5.11)</text>
<text x="703.7" y="200.3" fill="#4db152" stroke="#4db152" font-size="10.7">GLONASS</text>
<text x="703.7" y="212.6" fill="#4db152" stroke="#4db152" font-size="10.7">C/A-Code</text>
<text x="703.7" y="224.9" fill="#4db152" stroke="#4db152" font-size="10.7">BPSK(0.511)</text>
<text x="86.7" y="267.5" fill="#1a1a1a" stroke="#1a1a1a" font-size="9.9">1176.45 MHz</text>
<text x="151.7" y="267.5" fill="#1a1a1a" stroke="#1a1a1a" font-size="9.9">1202.025 MHz</text>
<path d="M99.5,309.7 L91.05,320.33 L87.82,325.25 L85.71,328.93 L84.26,331.89 L83.27,334.34 L82.65,336.4 L82.33,338.12 L82.27,339.55 L82.45,340.72 L82.84,341.66 L83.43,342.37 L84.22,342.88 L85.19,343.18 L86.35,343.27 L87.69,343.18 L89.21,342.88 L90.91,342.37 L92.81,341.66 L94.91,340.72 L97.23,339.55 L99.78,338.12 L102.59,336.4 L105.71,334.34 L109.19,331.89 L113.13,328.93 L117.73,325.25 L123.46,320.33 L134.4,309.7Z" fill="#2a1b70"/>
<path d="M99.5,310.2 L100.11,297.45 L101.08,292.03 L102.13,288.06 L103.22,284.9 L104.34,282.31 L105.48,280.15 L106.63,278.35 L107.8,276.86 L108.99,275.64 L110.19,274.67 L111.4,273.93 L112.62,273.41 L113.85,273.1 L115.09,273 L116.34,273.1 L117.6,273.41 L118.88,273.93 L120.16,274.67 L121.45,275.64 L122.76,276.86 L124.08,278.35 L125.42,280.15 L126.77,282.31 L128.15,284.9 L129.55,288.06 L131,292.03 L132.52,297.45 L134.4,310.2Z" fill="#354c97"/>
<path d="M145.4,309.7 L137.01,320.33 L133.83,325.25 L131.77,328.93 L130.37,331.89 L129.44,334.34 L128.87,336.4 L128.6,338.12 L128.6,339.55 L128.83,340.72 L129.27,341.66 L129.92,342.37 L130.76,342.88 L131.79,343.18 L133,343.27 L134.39,343.18 L135.96,342.88 L137.72,342.37 L139.67,341.66 L141.83,340.72 L144.2,339.55 L146.8,338.12 L149.67,336.4 L152.84,334.34 L156.37,331.89 L160.37,328.93 L165.03,325.25 L170.81,320.33 L181.8,309.7Z" fill="#2a1b70"/>
<path d="M145.4,310.2 L146.06,297.45 L147.09,292.03 L148.19,288.06 L149.33,284.9 L150.51,282.31 L151.7,280.15 L152.91,278.35 L154.13,276.86 L155.37,275.64 L156.62,274.67 L157.89,273.93 L159.16,273.41 L160.45,273.1 L161.74,273 L163.05,273.1 L164.36,273.41 L165.69,273.93 L167.02,274.67 L168.37,275.64 L169.73,276.86 L171.11,278.35 L172.5,280.15 L173.91,282.31 L175.33,284.9 L176.79,288.06 L178.29,292.03 L179.86,297.45 L181.8,310.2Z" fill="#354c97"/>
<text x="59.8" y="279.8" fill="#30448f" stroke="#30448f" font-size="9.9">L5OC-I</text>
<text x="181.5" y="279.8" fill="#30448f" stroke="#30448f" font-size="9.9">L3OC-I</text>
<text x="42" y="339" fill="#2a1b70" stroke="#2a1b70" font-size="9.9">L5OC-Q</text>
<text x="159.4" y="339" fill="#2a1b70" stroke="#2a1b70" font-size="9.9">L3OC-Q</text>
<text x="314.5" y="249.9" fill="#1a1a1a" stroke="#1a1a1a" font-size="10.8">1248.06 Mhz</text>
<path d="M315.2,310.4 L313.1,313.42 L311.92,315.36 L311.15,316.8 L310.75,317.81 L310.8,318.3 L311.67,317.81 L312.99,316.8 L314.68,315.36 L316.78,313.42 L319.8,310.4Z M317.2,310.4 L311.69,317.66 L308.75,321.89 L306.54,325.24 L304.82,328.03 L303.47,330.38 L302.43,332.37 L301.67,334.02 L301.17,335.37 L300.92,336.42 L300.94,337.17 L301.22,337.59 L301.86,337.59 L302.87,337.17 L304.14,336.42 L305.67,335.37 L307.46,334.02 L309.51,332.37 L311.83,330.38 L314.47,328.03 L317.48,325.24 L320.97,321.89 L325.2,317.66 L332,310.4Z M332,310.4 L326,318.24 L322.37,323.29 L319.83,327.05 L318.25,329.68 L317.83,330.94 L319.55,329.68 L322.43,327.05 L326.27,323.29 L331.2,318.24 L338.5,310.4Z M338.9,310.4 L332.92,318.24 L329.31,323.29 L326.79,327.05 L325.23,329.68 L324.83,330.94 L326.57,329.68 L329.47,327.05 L333.33,323.29 L338.28,318.24 L345.6,310.4Z M342,310.4 L337.07,317.01 L334.44,320.9 L332.45,324.03 L330.88,326.67 L329.62,328.94 L328.62,330.91 L327.85,332.62 L327.28,334.08 L326.91,335.31 L326.72,336.32 L326.72,337.11 L326.91,337.68 L327.31,338 L327.98,338 L328.92,337.68 L330.07,337.11 L331.41,336.32 L332.94,335.31 L334.65,334.08 L336.56,332.62 L338.68,330.91 L341.02,328.94 L343.62,326.67 L346.53,324.03 L349.86,320.9 L353.83,317.01 L360.1,310.4Z M359.3,310.4 L357.23,313.42 L356.08,315.36 L355.34,316.8 L354.97,317.81 L355.05,318.3 L355.95,317.81 L357.3,316.8 L359.02,315.36 L361.15,313.42 L364.2,310.4Z" fill="#d8322a"/>
<path d="M331.23,311.19 L315.15,330.15" stroke="#ffffff" stroke-width="0.5" opacity="0.85" fill="none"/>
<path d="M338.03,311.19 L322.62,329.36" stroke="#ffffff" stroke-width="0.5" opacity="0.85" fill="none"/>
<path d="M345.13,311.19 L336.42,321.46" stroke="#ffffff" stroke-width="0.5" opacity="0.85" fill="none"/>
<path d="M333.1,310.4 L333.42,301.98 L333.75,296.82 L334.07,293.35 L334.4,291.7 L334.72,293.35 L335.05,296.82 L335.38,301.98 L335.7,310.4Z M345.1,310.4 L345.42,301.98 L345.75,296.82 L346.07,293.35 L346.4,291.7 L346.72,293.35 L347.05,296.82 L347.38,301.98 L347.7,310.4Z M327.7,310.4 L328.02,305.9 L328.35,303.14 L328.68,301.28 L329,300.4 L329.32,301.28 L329.65,303.14 L329.98,305.9 L330.3,310.4Z M350.5,310.4 L350.82,305.9 L351.15,303.14 L351.47,301.28 L351.8,300.4 L352.12,301.28 L352.45,303.14 L352.77,305.9 L353.1,310.4Z M322.3,310.4 L322.62,307.97 L322.95,306.48 L323.27,305.48 L323.6,305 L323.92,305.48 L324.25,306.48 L324.57,307.97 L324.9,310.4Z M355.9,310.4 L356.22,307.97 L356.55,306.48 L356.88,305.48 L357.2,305 L357.52,305.48 L357.85,306.48 L358.18,307.97 L358.5,310.4Z" fill="#52b448" opacity="0.85"/>
<path d="M336,310.4 L336.29,296.88 L336.58,286.83 L336.88,278.38 L337.17,271.32 L337.46,265.74 L337.75,262.4 L338.04,265.74 L338.33,271.32 L338.62,278.38 L338.92,286.83 L339.21,296.88 L339.5,310.4Z M341.3,310.4 L341.59,296.88 L341.88,286.83 L342.17,278.38 L342.47,271.32 L342.76,265.74 L343.05,262.4 L343.34,265.74 L343.63,271.32 L343.92,278.38 L344.22,286.83 L344.51,296.88 L344.8,310.4Z M331.3,310.4 L331.62,297.88 L331.95,290.22 L332.27,285.05 L332.6,282.6 L332.92,285.05 L333.25,290.22 L333.57,297.88 L333.9,310.4Z M346.9,310.4 L347.22,297.88 L347.55,290.22 L347.88,285.05 L348.2,282.6 L348.52,285.05 L348.85,290.22 L349.18,297.88 L349.5,310.4Z M325.95,310.4 L326.27,301.93 L326.6,296.75 L326.93,293.26 L327.25,291.6 L327.57,293.26 L327.9,296.75 L328.23,301.93 L328.55,310.4Z M352.25,310.4 L352.57,301.93 L352.9,296.75 L353.22,293.26 L353.55,291.6 L353.87,293.26 L354.2,296.75 L354.52,301.93 L354.85,310.4Z M320.6,310.4 L320.92,304.64 L321.25,301.11 L321.57,298.73 L321.9,297.6 L322.22,298.73 L322.55,301.11 L322.88,304.64 L323.2,310.4Z M357.6,310.4 L357.92,304.64 L358.25,301.11 L358.57,298.73 L358.9,297.6 L359.22,298.73 L359.55,301.11 L359.88,304.64 L360.2,310.4Z M315.25,310.4 L315.57,306.44 L315.9,304.01 L316.22,302.37 L316.55,301.6 L316.87,302.37 L317.2,304.01 L317.52,306.44 L317.85,310.4Z M362.95,310.4 L363.27,306.44 L363.6,304.01 L363.93,302.37 L364.25,301.6 L364.57,302.37 L364.9,304.01 L365.23,306.44 L365.55,310.4Z" fill="#2a8c52"/>
<polygon points="335.65,310.4 336.05,295.1 336.45,283.1 337.1,277.1 337.9,270.8 339.5,264.1 339.95,261.1 340.4,257.1 340.85,261.1 341.3,264.1 342.9,270.8 343.7,277.1 344.35,283.1 344.75,295.1 345.15,310.4" fill="#52b448"/>
<rect x="315.4" y="309.4" width="50" height="1.0" fill="#2a8c52"/>
<text x="351.6" y="264.9" fill="#4fb348" stroke="#4fb348" font-size="10.8">L2OC</text>
<text x="351.6" y="276.9" fill="#4fb348" stroke="#4fb348" font-size="10.8">BPSK(1)</text>
<text x="351.9" y="287" fill="#2a8c52" stroke="#2a8c52" font-size="10.8">BOC(1,1)</text>
<text x="364.2" y="321.6" fill="#d8322a" stroke="#d8322a" font-size="10.8">L2OCM</text>
<text x="364.2" y="333.4" fill="#d8322a" stroke="#d8322a" font-size="10.8">BOC(5,2.5)</text>
<text x="621.7" y="260" fill="#1a1a1a" stroke="#1a1a1a" font-size="10.8">1575.42 MHz</text>
<text x="607.7" y="273.5" fill="#0e8a8d" stroke="#0e8a8d" font-size="10.8">L1OCI</text>
<path d="M647.4,309 L647.7,288.18 L648,278.29 L648.3,271.61 L648.6,267.05 L648.9,264.16 L649.2,262.62 L649.5,262.2 L649.8,262.62 L650.1,264.16 L650.4,267.05 L650.7,271.61 L651,278.29 L651.3,288.18 L651.6,309Z M651.5,309 L651.8,288.18 L652.1,278.29 L652.4,271.61 L652.7,267.05 L653,264.16 L653.3,262.62 L653.6,262.2 L653.9,262.62 L654.2,264.16 L654.5,267.05 L654.8,271.61 L655.1,278.29 L655.4,288.18 L655.7,309Z M641.8,309 L642.08,296.9 L642.36,291.15 L642.64,287.27 L642.91,284.62 L643.19,282.94 L643.47,282.05 L643.75,281.8 L644.03,282.05 L644.31,282.94 L644.59,284.62 L644.86,287.27 L645.14,291.15 L645.42,296.9 L645.7,309Z M657.9,309 L658.18,296.9 L658.46,291.15 L658.74,287.27 L659.01,284.62 L659.29,282.94 L659.57,282.05 L659.85,281.8 L660.13,282.05 L660.41,282.94 L660.69,284.62 L660.96,287.27 L661.24,291.15 L661.52,296.9 L661.8,309Z" fill="#0e8a8d"/>
<text x="674.3" y="249" fill="#1a1a1a" stroke="#1a1a1a" font-size="10.8">1600.995 Mhz</text>
<path d="M677.6,309 L675.5,312.02 L674.32,313.96 L673.55,315.4 L673.15,316.41 L673.2,316.9 L674.07,316.41 L675.39,315.4 L677.08,313.96 L679.18,312.02 L682.2,309Z M679.6,309 L674.09,316.26 L671.15,320.49 L668.94,323.84 L667.22,326.63 L665.87,328.98 L664.83,330.97 L664.07,332.62 L663.57,333.97 L663.32,335.02 L663.34,335.77 L663.62,336.19 L664.26,336.19 L665.27,335.77 L666.54,335.02 L668.07,333.97 L669.86,332.62 L671.91,330.97 L674.23,328.98 L676.87,326.63 L679.88,323.84 L683.37,320.49 L687.6,316.26 L694.4,309Z M694.4,309 L688.4,316.84 L684.77,321.89 L682.23,325.65 L680.65,328.28 L680.23,329.54 L681.95,328.28 L684.83,325.65 L688.67,321.89 L693.6,316.84 L700.9,309Z M701.3,309 L695.32,316.84 L691.71,321.89 L689.19,325.65 L687.63,328.28 L687.23,329.54 L688.97,328.28 L691.87,325.65 L695.73,321.89 L700.68,316.84 L708,309Z M704.4,309 L699.47,315.61 L696.84,319.5 L694.85,322.63 L693.28,325.27 L692.02,327.54 L691.02,329.51 L690.25,331.22 L689.68,332.68 L689.31,333.91 L689.12,334.92 L689.12,335.71 L689.31,336.28 L689.71,336.6 L690.38,336.6 L691.32,336.28 L692.47,335.71 L693.81,334.92 L695.34,333.91 L697.05,332.68 L698.96,331.22 L701.08,329.51 L703.42,327.54 L706.02,325.27 L708.93,322.63 L712.26,319.5 L716.23,315.61 L722.5,309Z M721.7,309 L719.63,312.02 L718.48,313.96 L717.74,315.4 L717.37,316.41 L717.45,316.9 L718.35,316.41 L719.7,315.4 L721.42,313.96 L723.55,312.02 L726.6,309Z" fill="#d8322a"/>
<path d="M693.63,309.79 L677.55,328.75" stroke="#ffffff" stroke-width="0.5" opacity="0.85" fill="none"/>
<path d="M700.43,309.79 L685.02,327.96" stroke="#ffffff" stroke-width="0.5" opacity="0.85" fill="none"/>
<path d="M707.53,309.79 L698.82,320.06" stroke="#ffffff" stroke-width="0.5" opacity="0.85" fill="none"/>
<path d="M695.5,309 L695.83,300.58 L696.15,295.42 L696.47,291.95 L696.8,290.3 L697.12,291.95 L697.45,295.42 L697.77,300.58 L698.1,309Z M707.5,309 L707.83,300.58 L708.15,295.42 L708.47,291.95 L708.8,290.3 L709.12,291.95 L709.45,295.42 L709.77,300.58 L710.1,309Z M690.1,309 L690.42,304.5 L690.75,301.74 L691.08,299.88 L691.4,299 L691.72,299.88 L692.05,301.74 L692.38,304.5 L692.7,309Z M712.9,309 L713.22,304.5 L713.55,301.74 L713.88,299.88 L714.2,299 L714.52,299.88 L714.85,301.74 L715.17,304.5 L715.5,309Z M684.7,309 L685.03,306.57 L685.35,305.08 L685.67,304.08 L686,303.6 L686.33,304.08 L686.65,305.08 L686.97,306.57 L687.3,309Z M718.3,309 L718.62,306.57 L718.95,305.08 L719.27,304.08 L719.6,303.6 L719.92,304.08 L720.25,305.08 L720.57,306.57 L720.9,309Z" fill="#52b448" opacity="0.85"/>
<path d="M698.4,309 L698.69,295.56 L698.98,285.58 L699.27,277.18 L699.57,270.16 L699.86,264.62 L700.15,261.3 L700.44,264.62 L700.73,270.16 L701.02,277.18 L701.32,285.58 L701.61,295.56 L701.9,309Z M703.7,309 L703.99,295.56 L704.28,285.58 L704.57,277.18 L704.87,270.16 L705.16,264.62 L705.45,261.3 L705.74,264.62 L706.03,270.16 L706.32,277.18 L706.62,285.58 L706.91,295.56 L707.2,309Z M693.7,309 L694.03,296.48 L694.35,288.82 L694.67,283.65 L695,281.2 L695.33,283.65 L695.65,288.82 L695.97,296.48 L696.3,309Z M709.3,309 L709.62,296.48 L709.95,288.82 L710.27,283.65 L710.6,281.2 L710.92,283.65 L711.25,288.82 L711.57,296.48 L711.9,309Z M688.35,309 L688.67,300.53 L689,295.35 L689.33,291.86 L689.65,290.2 L689.97,291.86 L690.3,295.35 L690.62,300.53 L690.95,309Z M714.65,309 L714.97,300.53 L715.3,295.35 L715.62,291.86 L715.95,290.2 L716.27,291.86 L716.6,295.35 L716.92,300.53 L717.25,309Z M683,309 L683.33,303.24 L683.65,299.71 L683.97,297.33 L684.3,296.2 L684.62,297.33 L684.95,299.71 L685.27,303.24 L685.6,309Z M720,309 L720.33,303.24 L720.65,299.71 L720.97,297.33 L721.3,296.2 L721.62,297.33 L721.95,299.71 L722.27,303.24 L722.6,309Z M677.65,309 L677.97,305.04 L678.3,302.61 L678.62,300.97 L678.95,300.2 L679.27,300.97 L679.6,302.61 L679.92,305.04 L680.25,309Z M725.35,309 L725.67,305.04 L726,302.61 L726.33,300.97 L726.65,300.2 L726.97,300.97 L727.3,302.61 L727.62,305.04 L727.95,309Z" fill="#2a8c52"/>
<polygon points="698.05,309 698.45,294 698.85,282 699.5,276 700.3,269.7 701.9,263 702.35,260 702.8,256 703.25,260 703.7,263 705.3,269.7 706.1,276 706.75,282 707.15,294 707.55,309" fill="#52b448"/>
<rect x="677.8" y="308" width="50" height="1.0" fill="#2a8c52"/>
<text x="713.9" y="263.6" fill="#4fb348" stroke="#4fb348" font-size="10.8">L1OC</text>
<text x="713.9" y="275.5" fill="#4fb348" stroke="#4fb348" font-size="10.8">BPSK(1)</text>
<text x="715.3" y="288.3" fill="#2a8c52" stroke="#2a8c52" font-size="10.8">BOC(1,1)</text>
<text x="726.7" y="319.6" fill="#d8322a" stroke="#d8322a" font-size="10.8">L1OCM</text>
<text x="726.7" y="332" fill="#d8322a" stroke="#d8322a" font-size="10.8">BOC(5,2.5)</text>
<text x="81.2" y="362.8" fill="#1a1a1a" stroke="#1a1a1a" font-size="9.9">1176.45 MHz</text>
<text x="149.3" y="362.8" fill="#1a1a1a" stroke="#1a1a1a" font-size="9.9">1207.14 MHz</text>
<text x="109.7" y="375.8" fill="#1a1a1a" stroke="#1a1a1a" font-size="9.9">AltBOC(15,10)</text>
<path d="M60.8,414.7 L46.09,430.64 L46.48,430.64 L47.43,430.62 L48.4,430.59 L49.38,430.54 L50.4,430.45 L51.45,430.33 L52.54,430.16 L53.67,429.95 L54.85,429.69 L56.09,429.36 L57.4,428.97 L58.77,428.49 L60.24,427.92 L61.81,427.23 L63.5,426.41 L65.35,425.42 L67.42,424.2 L69.8,422.63 L72.77,420.43 L79,414.7Z M80.3,414.7 L76.58,419.46 L75.36,421.53 L74.63,423.06 L74.19,424.27 L73.95,425.27 L73.86,426.11 L73.9,426.8 L74.05,427.38 L74.3,427.85 L74.63,428.23 L75.05,428.51 L75.55,428.72 L76.12,428.84 L76.76,428.88 L77.48,428.84 L78.28,428.72 L79.15,428.51 L80.09,428.23 L81.12,427.85 L82.24,427.38 L83.45,426.8 L84.78,426.11 L86.23,425.27 L87.83,424.27 L89.64,423.06 L91.73,421.53 L94.32,419.46 L99.4,414.7Z M99.6,414.7 L94.19,421.98 L92.59,425.14 L91.76,427.47 L91.36,429.33 L91.26,430.85 L91.4,432.13 L91.73,433.19 L92.23,434.07 L92.88,434.79 L93.66,435.37 L94.57,435.81 L95.6,436.11 L96.75,436.3 L98.01,436.36 L99.38,436.3 L100.86,436.11 L102.46,435.81 L104.18,435.37 L106.02,434.79 L108,434.07 L110.13,433.19 L112.43,432.13 L114.92,430.85 L117.64,429.33 L120.67,427.47 L124.13,425.14 L128.37,421.98 L136.4,414.7Z M136.6,414.7 L132.28,420.08 L130.77,422.4 L129.85,424.1 L129.25,425.45 L128.88,426.55 L128.68,427.45 L128.64,428.19 L128.73,428.8 L128.93,429.27 L129.24,429.64 L129.64,429.89 L130.15,430.04 L130.74,430.09 L131.43,430.04 L132.21,429.89 L133.09,429.64 L134.07,429.27 L135.15,428.8 L136.35,428.19 L137.68,427.45 L139.15,426.55 L140.81,425.45 L142.69,424.1 L144.91,422.4 L147.69,420.08 L153.3,414.7Z M153.3,414.7 L147.84,421.98 L146.18,425.14 L145.28,427.47 L144.83,429.33 L144.67,430.85 L144.76,432.13 L145.03,433.19 L145.48,434.07 L146.07,434.79 L146.79,435.37 L147.65,435.81 L148.62,436.11 L149.71,436.3 L150.91,436.36 L152.22,436.3 L153.65,436.11 L155.19,435.81 L156.85,435.37 L158.64,434.79 L160.56,434.07 L162.63,433.19 L164.87,432.13 L167.3,430.85 L169.97,429.33 L172.94,427.47 L176.35,425.14 L180.52,421.98 L188.5,414.7Z M189.4,414.7 L185.55,419.57 L184.26,421.67 L183.48,423.21 L183,424.43 L182.73,425.42 L182.62,426.24 L182.65,426.91 L182.79,427.46 L183.04,427.89 L183.38,428.22 L183.82,428.45 L184.34,428.59 L184.94,428.63 L185.63,428.59 L186.4,428.45 L187.26,428.22 L188.21,427.89 L189.25,427.46 L190.4,426.91 L191.67,426.24 L193.07,425.42 L194.63,424.43 L196.4,423.21 L198.47,421.67 L201.06,419.57 L206.2,414.7Z M208,414.7 L203.68,420.43 L202.61,422.63 L202.14,424.2 L201.97,425.42 L202.03,426.41 L202.24,427.23 L202.58,427.92 L203.02,428.49 L203.55,428.97 L204.15,429.36 L204.81,429.69 L205.54,429.95 L206.31,430.16 L207.13,430.33 L207.98,430.45 L208.87,430.54 L209.79,430.59 L210.73,430.62 L211.68,430.64 L212.09,430.64 L226.8,414.7Z" fill="#2a1b70"/>
<path d="M60.8,415.2 L60.8,389 L61.19,389 L62.13,389.03 L63.07,389.08 L64,389.17 L64.94,389.31 L65.88,389.51 L66.82,389.78 L67.75,390.13 L68.69,390.56 L69.63,391.1 L70.56,391.75 L71.5,392.54 L72.44,393.48 L73.38,394.6 L74.31,395.95 L75.25,397.57 L76.19,399.59 L77.13,402.16 L78.06,405.78 L79,415.2Z M80.3,415.2 L80.98,407.37 L81.66,403.97 L82.35,401.46 L83.03,399.47 L83.71,397.82 L84.39,396.45 L85.08,395.31 L85.76,394.36 L86.44,393.58 L87.12,392.97 L87.8,392.49 L88.49,392.16 L89.17,391.97 L89.85,391.9 L90.53,391.97 L91.21,392.16 L91.9,392.49 L92.58,392.97 L93.26,393.58 L93.94,394.36 L94.62,395.31 L95.31,396.45 L95.99,397.82 L96.67,399.47 L97.35,401.46 L98.04,403.97 L98.72,407.37 L99.4,415.2Z M99.6,415.2 L100.91,403.23 L102.23,398.04 L103.54,394.21 L104.86,391.16 L106.17,388.65 L107.49,386.56 L108.8,384.81 L110.11,383.36 L111.43,382.17 L112.74,381.23 L114.06,380.51 L115.37,380 L116.69,379.7 L118,379.6 L119.31,379.7 L120.63,380 L121.94,380.51 L123.26,381.23 L124.57,382.17 L125.89,383.36 L127.2,384.81 L128.51,386.56 L129.83,388.65 L131.14,391.16 L132.46,394.21 L133.77,398.04 L135.09,403.23 L136.4,415.2Z M136.6,415.2 L137.24,406.36 L137.88,402.54 L138.53,399.74 L139.17,397.53 L139.81,395.73 L140.45,394.24 L141.1,393.02 L141.74,392.03 L142.38,391.25 L143.02,390.65 L143.67,390.23 L144.31,389.98 L144.95,389.9 L145.59,389.98 L146.23,390.23 L146.88,390.65 L147.52,391.25 L148.16,392.03 L148.8,393.02 L149.45,394.24 L150.09,395.73 L150.73,397.53 L151.37,399.74 L152.02,402.54 L152.66,406.36 L153.3,415.2Z M153.3,415.2 L154.56,403.23 L155.81,398.04 L157.07,394.21 L158.33,391.16 L159.59,388.65 L160.84,386.56 L162.1,384.81 L163.36,383.36 L164.61,382.17 L165.87,381.23 L167.13,380.51 L168.39,380 L169.64,379.7 L170.9,379.6 L172.16,379.7 L173.41,380 L174.67,380.51 L175.93,381.23 L177.19,382.17 L178.44,383.36 L179.7,384.81 L180.96,386.56 L182.21,388.65 L183.47,391.16 L184.73,394.21 L185.99,398.04 L187.24,403.23 L188.5,415.2Z M189.4,415.2 L190.05,407.19 L190.69,403.74 L191.34,401.21 L191.98,399.21 L192.63,397.57 L193.28,396.23 L193.92,395.13 L194.57,394.23 L195.22,393.52 L195.86,392.98 L196.51,392.6 L197.15,392.37 L197.8,392.3 L198.45,392.37 L199.09,392.6 L199.74,392.98 L200.38,393.52 L201.03,394.23 L201.68,395.13 L202.32,396.23 L202.97,397.57 L203.62,399.21 L204.26,401.21 L204.91,403.74 L205.55,407.19 L206.2,415.2Z M208,415.2 L208.97,405.78 L209.94,402.16 L210.9,399.59 L211.87,397.57 L212.84,395.95 L213.81,394.6 L214.78,393.48 L215.75,392.54 L216.71,391.75 L217.68,391.1 L218.65,390.56 L219.62,390.13 L220.59,389.78 L221.55,389.51 L222.52,389.31 L223.49,389.17 L224.46,389.08 L225.43,389.03 L226.4,389 L226.8,389 L226.8,415.2Z" fill="#354c97"/>
<text x="83.6" y="381.8" fill="#354c97" stroke="#354c97" font-size="9.9">E5a-I</text>
<text x="194.4" y="379.6" fill="#354c97" stroke="#354c97" font-size="9.9">E5b-I</text>
<text x="80.3" y="446.8" fill="#2a1b70" stroke="#2a1b70" font-size="9.9">E5a-Q</text>
<text x="158.5" y="445.6" fill="#2a1b70" stroke="#2a1b70" font-size="9.9">E5b-Q</text>
<text x="425.6" y="359.8" fill="#1a1a1a" stroke="#1a1a1a" font-size="9.9">1278.75 MHz</text>
<path d="M421.7,415.8 L416.74,421.89 L414.6,424.86 L413.17,427.05 L412.18,428.75 L411.53,430.08 L411.17,431.07 L411.09,431.77 L411.28,432.16 L411.83,432.16 L412.73,431.77 L413.91,431.07 L415.36,430.08 L417.1,428.75 L419.19,427.05 L421.72,424.86 L424.95,421.89 L431,415.8Z M429,415.8 L423.99,421.56 L421.24,425.11 L419.15,428.02 L417.47,430.53 L416.11,432.72 L415.02,434.65 L414.16,436.36 L413.51,437.85 L413.06,439.15 L412.81,440.26 L412.76,441.17 L412.91,441.88 L413.28,442.37 L413.94,442.59 L415.04,442.37 L416.42,441.88 L418.03,441.17 L419.84,440.26 L421.84,439.15 L424.05,437.85 L426.46,436.36 L429.08,434.65 L431.93,432.72 L435.05,430.53 L438.48,428.02 L442.33,425.11 L446.84,421.56 L453.6,415.8Z M452.4,415.8 L447.49,420.52 L443.39,424.56 L440.8,427.32 L444.73,424.56 L450.16,420.52 L456.4,415.8Z M458.2,415.8 L456.01,420.22 L454.24,424.01 L453.25,426.6 L455.64,424.01 L458.81,420.22 L462.4,415.8Z M458.6,415.8 L455.34,421.69 L453.65,425.31 L452.42,428.29 L451.47,430.84 L450.74,433.08 L450.2,435.05 L449.82,436.79 L449.59,438.32 L449.5,439.65 L449.54,440.78 L449.72,441.71 L450.05,442.44 L450.53,442.94 L451.2,443.16 L452.18,442.94 L453.36,442.44 L454.69,441.71 L456.17,440.78 L457.78,439.65 L459.53,438.32 L461.42,436.79 L463.46,435.05 L465.66,433.08 L468.04,430.84 L470.64,428.29 L473.54,425.31 L476.88,421.69 L481.8,415.8Z M479.6,415.8 L475.12,421.84 L473.18,424.87 L471.86,427.16 L470.91,429.01 L470.23,430.54 L469.78,431.8 L469.52,432.83 L469.45,433.64 L469.55,434.25 L469.82,434.64 L470.3,434.8 L471.04,434.64 L471.98,434.25 L473.1,433.64 L474.4,432.83 L475.87,431.8 L477.54,430.54 L479.44,429.01 L481.61,427.16 L484.15,424.87 L487.3,421.84 L493,415.8Z" fill="#dc332e"/>
<path d="M449.3,415.8 L449.96,403.54 L450.61,397.41 L451.27,392.75 L451.92,388.96 L452.58,385.82 L453.23,383.19 L453.89,380.98 L454.54,379.16 L455.2,377.69 L455.86,376.53 L456.51,375.68 L457.17,375.11 L457.82,374.83 L458.48,374.83 L459.13,375.11 L459.79,375.68 L460.44,376.53 L461.1,377.69 L461.76,379.16 L462.41,380.98 L463.07,383.19 L463.72,385.82 L464.38,388.96 L465.03,392.75 L465.69,397.41 L466.34,403.54 L467,415.8Z M439.9,415.8 L440.43,407.03 L440.96,402.23 L441.49,398.69 L442.02,396.01 L442.56,394.04 L443.09,392.67 L443.62,391.87 L444.15,391.6 L444.68,391.87 L445.21,392.67 L445.74,394.04 L446.27,396.01 L446.81,398.69 L447.34,402.23 L447.87,407.03 L448.4,415.8Z M430.8,415.8 L431.33,408.81 L431.87,405.02 L432.4,402.26 L432.93,400.22 L433.47,398.76 L434,397.82 L434.53,397.36 L435.07,397.36 L435.6,397.82 L436.13,398.76 L436.67,400.22 L437.2,402.26 L437.73,405.02 L438.27,408.81 L438.8,415.8Z M421.7,415.8 L422.23,410.13 L422.75,407.06 L423.28,404.82 L423.81,403.17 L424.33,401.99 L424.86,401.22 L425.39,400.85 L425.91,400.85 L426.44,401.22 L426.97,401.99 L427.49,403.17 L428.02,404.82 L428.55,407.06 L429.07,410.13 L429.6,415.8Z M467.6,415.8 L468.13,406.66 L468.67,401.7 L469.2,398.09 L469.73,395.42 L470.27,393.52 L470.8,392.28 L471.33,391.68 L471.87,391.68 L472.4,392.28 L472.93,393.52 L473.47,395.42 L474,398.09 L474.53,401.7 L475.07,406.66 L475.6,415.8Z M476.2,415.8 L476.75,408.81 L477.29,405.02 L477.84,402.26 L478.39,400.22 L478.93,398.76 L479.48,397.82 L480.03,397.36 L480.57,397.36 L481.12,397.82 L481.67,398.76 L482.21,400.22 L482.76,402.26 L483.31,405.02 L483.85,408.81 L484.4,415.8Z M485,415.8 L485.53,410.13 L486.07,407.06 L486.6,404.82 L487.13,403.17 L487.67,401.99 L488.2,401.22 L488.73,400.85 L489.27,400.85 L489.8,401.22 L490.33,401.99 L490.87,403.17 L491.4,404.82 L491.93,407.06 L492.47,410.13 L493,415.8Z" fill="#2a1b70"/>
<text x="482.6" y="374.9" fill="#354c97" stroke="#354c97" font-size="9.9">E6<tspan font-size="4.2" dy="1.2">B</tspan><tspan dy="-1.2">, E6</tspan><tspan font-size="4.2" dy="1.2">C</tspan></text>
<text x="482.6" y="386.4" fill="#354c97" stroke="#354c97" font-size="9.9">BPSK(5)</text>
<text x="485" y="434.2" fill="#dc332e" stroke="#dc332e" font-size="9.9">E6<tspan font-size="4.2" dy="1.2">A</tspan></text>
<text x="464" y="446.1" fill="#dc332e" stroke="#dc332e" font-size="9.9">BOC<tspan font-size="4.2" dy="1.2">cos</tspan><tspan dy="-1.2">(10,5)</tspan></text>
<text x="624.5" y="351.6" fill="#1a1a1a" stroke="#1a1a1a" font-size="9.9">1575.42 MHz</text>
<path d="M614.8,414.7 L611.7,419.84 L609.47,423.78 L607.58,427.25 L605.94,430.37 L604.52,433.19 L603.3,435.74 L602.28,438.02 L601.45,440.02 L600.84,441.73 L600.46,443.11 L600.39,444.07 L601.02,444.07 L602.34,443.11 L603.97,441.73 L605.84,440.02 L607.91,438.02 L610.19,435.74 L612.66,433.19 L615.33,430.37 L618.22,427.25 L621.36,423.78 L624.85,419.84 L629.2,414.7Z M669.3,414.7 L666.19,419.84 L663.96,423.78 L662.06,427.25 L660.42,430.37 L659,433.19 L657.78,435.74 L656.75,438.02 L655.92,440.02 L655.3,441.73 L654.92,443.11 L654.84,444.07 L655.47,444.07 L656.78,443.11 L658.41,441.73 L660.27,440.02 L662.34,438.02 L664.62,435.74 L667.08,433.19 L669.75,430.37 L672.63,427.25 L675.77,423.78 L679.25,419.84 L683.6,414.7Z M628.4,414.7 L623.47,422.24 L619.32,428.69 L616.66,433.1 L620.39,428.69 L625.6,422.24 L631.6,414.7Z M631,414.7 L627.26,420.6 L624.13,425.65 L622.16,429.1 L625.2,425.65 L629.39,420.6 L634.2,414.7Z M633.6,414.7 L630.93,419.12 L628.71,422.91 L627.37,425.5 L629.78,422.91 L633.06,419.12 L636.8,414.7Z M636.2,414.7 L634.48,417.81 L633.08,420.48 L632.29,422.3 L634.14,420.48 L636.61,417.81 L639.4,414.7Z M638.6,414.7 L637.83,416.5 L637.24,418.05 L637.01,419.1 L638.31,418.05 L639.96,416.5 L641.8,414.7Z M640.2,414.7 L640.14,415.52 L640.16,416.22 L640.35,416.7 L641.23,416.22 L642.27,415.52 L643.4,414.7Z M683.6,414.7 L681.28,418.63 L679.38,422 L678.24,424.3 L680.44,422 L683.42,418.63 L686.8,414.7Z M686,414.7 L685.46,416.17 L685.08,417.44 L684.99,418.3 L686.15,417.44 L687.6,416.17 L689.2,414.7Z M666,414.7 L662.49,420.27 L659.57,425.04 L657.74,428.3 L660.64,425.04 L664.63,420.27 L669.2,414.7Z M663.6,414.7 L661.16,418.8 L659.15,422.3 L657.95,424.7 L660.22,422.3 L663.3,418.8 L666.8,414.7Z M661.2,414.7 L659.71,417.49 L658.52,419.87 L657.87,421.5 L659.59,419.87 L661.85,417.49 L664.4,414.7Z M658.8,414.7 L658.03,416.5 L657.44,418.05 L657.21,419.1 L658.51,418.05 L660.16,416.5 L662,414.7Z M657,414.7 L656.94,415.52 L656.96,416.22 L657.15,416.7 L658.03,416.22 L659.07,415.52 L660.2,414.7Z" fill="#dc332e"/>
<path d="M616.86,417.1 L605.84,432.3" stroke="#ffffff" stroke-width="0.4" opacity="0.7" fill="none"/>
<path d="M620.86,417.1 L606.36,437.1" stroke="#ffffff" stroke-width="0.4" opacity="0.7" fill="none"/>
<path d="M624.46,417.1 L613.44,432.3" stroke="#ffffff" stroke-width="0.4" opacity="0.7" fill="none"/>
<path d="M671.26,417.1 L660.24,432.3" stroke="#ffffff" stroke-width="0.4" opacity="0.7" fill="none"/>
<path d="M675.26,417.1 L660.76,437.1" stroke="#ffffff" stroke-width="0.4" opacity="0.7" fill="none"/>
<path d="M678.86,417.1 L667.84,432.3" stroke="#ffffff" stroke-width="0.4" opacity="0.7" fill="none"/>
<path d="M648.8,414.7 L649.23,393.69 L649.65,378.88 L650.08,367.63 L650.5,361 L650.93,367.63 L651.35,378.88 L651.78,393.69 L652.2,414.7Z M652.1,414.7 L652.52,393.69 L652.95,378.88 L653.38,367.63 L653.8,361 L654.23,367.63 L654.65,378.88 L655.08,393.69 L655.5,414.7Z M648.2,414.7 L648.76,381.5 L649.31,374.59 L649.87,370.98 L650.43,369.03 L650.99,368.09 L651.54,367.75 L652.1,367.7 L652.66,367.75 L653.21,368.09 L653.77,369.03 L654.33,370.98 L654.89,374.59 L655.44,381.5 L656,414.7Z M644.9,414.7 L645.33,400.85 L645.75,391.09 L646.17,383.67 L646.6,379.3 L647.03,383.67 L647.45,391.09 L647.88,400.85 L648.3,414.7Z M655.7,414.7 L656.12,400.85 L656.55,391.09 L656.97,383.67 L657.4,379.3 L657.83,383.67 L658.25,391.09 L658.67,400.85 L659.1,414.7Z M637.2,414.7 L637.71,405.86 L638.23,399.31 L638.74,393.8 L639.26,389.15 L639.77,385.34 L640.29,382.46 L640.8,380.9 L641.31,382.46 L641.83,385.34 L642.34,389.15 L642.86,393.8 L643.37,399.31 L643.89,405.86 L644.4,414.7Z M659.8,414.7 L660.31,405.86 L660.83,399.31 L661.34,393.8 L661.86,389.15 L662.37,385.34 L662.89,382.46 L663.4,380.9 L663.91,382.46 L664.43,385.34 L664.94,389.15 L665.46,393.8 L665.97,399.31 L666.49,405.86 L667,414.7Z M633.2,414.7 L633.6,407.74 L634,402.83 L634.4,399.1 L634.8,396.9 L635.2,399.1 L635.6,402.83 L636,407.74 L636.4,414.7Z M667.3,414.7 L667.7,407.74 L668.1,402.83 L668.5,399.1 L668.9,396.9 L669.3,399.1 L669.7,402.83 L670.1,407.74 L670.5,414.7Z M629.5,414.7 L629.88,409.07 L630.25,405.09 L630.62,402.08 L631,400.3 L631.38,402.08 L631.75,405.09 L632.12,409.07 L632.5,414.7Z M671.3,414.7 L671.67,409.07 L672.05,405.09 L672.42,402.08 L672.8,400.3 L673.17,402.08 L673.55,405.09 L673.92,409.07 L674.3,414.7Z M625.6,414.7 L625.95,409.85 L626.3,406.43 L626.65,403.83 L627,402.3 L627.35,403.83 L627.7,406.43 L628.05,409.85 L628.4,414.7Z M675.2,414.7 L675.55,409.85 L675.9,406.43 L676.25,403.83 L676.6,402.3 L676.95,403.83 L677.3,406.43 L677.65,409.85 L678,414.7Z M621.8,414.7 L622.15,410.87 L622.5,408.16 L622.85,406.11 L623.2,404.9 L623.55,406.11 L623.9,408.16 L624.25,410.87 L624.6,414.7Z M679.1,414.7 L679.45,410.87 L679.8,408.16 L680.15,406.11 L680.5,404.9 L680.85,406.11 L681.2,408.16 L681.55,410.87 L681.9,414.7Z M614.8,414.7 L615.26,410.25 L615.71,406.96 L616.17,404.19 L616.63,401.85 L617.09,399.93 L617.54,398.48 L618,397.7 L618.46,398.48 L618.91,399.93 L619.37,401.85 L619.83,404.19 L620.29,406.96 L620.74,410.25 L621.2,414.7Z M682.8,414.7 L683.24,410.25 L683.67,406.96 L684.11,404.19 L684.54,401.85 L684.98,399.93 L685.41,398.48 L685.85,397.7 L686.29,398.48 L686.72,399.93 L687.16,401.85 L687.59,404.19 L688.03,406.96 L688.46,410.25 L688.9,414.7Z M638,414.7 L639.77,404.93 L641.55,401.77 L643.33,399.92 L645.1,398.8 L646.88,398.15 L648.65,397.83 L650.42,397.72 L652.2,397.7 L653.98,397.72 L655.75,397.83 L657.52,398.15 L659.3,398.8 L661.07,399.92 L662.85,401.77 L664.62,404.93 L666.4,414.7Z" fill="#4fb153"/>
<rect x="614.8" y="413.4" width="74.1" height="1.3" fill="#4fb153"/>
<text x="662" y="368.8" fill="#4fb153" stroke="#4fb153" font-size="9.9">E1<tspan font-size="4.2" dy="1.2">B</tspan><tspan dy="-1.2">, E1</tspan><tspan font-size="4.2" dy="1.2">C</tspan></text>
<text x="662" y="380.7" fill="#4fb153" stroke="#4fb153" font-size="9.9">CBOC(6,1,1/11)</text>
<text x="678.7" y="435.6" fill="#dc332e" stroke="#dc332e" font-size="9.9">E1<tspan font-size="4.2" dy="1.2">A</tspan></text>
<text x="678.7" y="447.7" fill="#dc332e" stroke="#dc332e" font-size="9.9">BOC<tspan font-size="4.2" dy="1.2">cos</tspan><tspan dy="-1.2">(15,2.5)</tspan></text>
<text x="149.3" y="471.9" fill="#1a1a1a" stroke="#1a1a1a" font-size="9.9">1207.14 MHz</text>
<path d="M152.3,528.6 L145.48,538.4 L142.89,543.12 L141.27,546.69 L140.21,549.57 L139.57,551.97 L139.24,553.99 L139.18,555.68 L139.35,557.1 L139.74,558.25 L140.32,559.18 L141.08,559.89 L142.02,560.39 L143.12,560.69 L144.4,560.79 L145.83,560.69 L147.43,560.39 L149.2,559.89 L151.15,559.18 L153.27,558.25 L155.6,557.1 L158.13,555.68 L160.89,553.99 L163.93,551.97 L167.29,549.57 L171.05,546.69 L175.38,543.12 L180.67,538.4 L190.2,528.6Z" fill="#dc332e"/>
<path d="M167.3,528.6 L167.8,515.01 L168.3,505.72 L168.8,498.1 L169.3,491.72 L169.8,486.45 L170.3,482.27 L170.8,479.26 L171.3,477.8 L171.8,479.26 L172.3,482.27 L172.8,486.45 L173.3,491.72 L173.8,498.1 L174.3,505.72 L174.8,515.01 L175.3,528.6Z M163.75,528.6 L164.14,517.23 L164.53,510.09 L164.92,504.93 L165.31,501.49 L165.7,500 L166.09,501.49 L166.48,504.93 L166.87,510.09 L167.26,517.23 L167.65,528.6Z M175.05,528.6 L175.44,517.23 L175.83,510.09 L176.22,504.93 L176.61,501.49 L177,500 L177.39,501.49 L177.78,504.93 L178.17,510.09 L178.56,517.23 L178.95,528.6Z M159.75,528.6 L160.14,519.93 L160.53,514.49 L160.92,510.56 L161.31,507.94 L161.7,506.8 L162.09,507.94 L162.48,510.56 L162.87,514.49 L163.26,519.93 L163.65,528.6Z M178.95,528.6 L179.34,519.93 L179.73,514.49 L180.12,510.56 L180.51,507.94 L180.9,506.8 L181.29,507.94 L181.68,510.56 L182.07,514.49 L182.46,519.93 L182.85,528.6Z M155.75,528.6 L156.14,521.76 L156.53,517.47 L156.92,514.37 L157.31,512.3 L157.7,511.4 L158.09,512.3 L158.48,514.37 L158.87,517.47 L159.26,521.76 L159.65,528.6Z M182.75,528.6 L183.14,521.76 L183.53,517.47 L183.92,514.37 L184.31,512.3 L184.7,511.4 L185.09,512.3 L185.48,514.37 L185.87,517.47 L186.26,521.76 L186.65,528.6Z M151.95,528.6 L152.34,523.11 L152.73,519.67 L153.12,517.18 L153.51,515.52 L153.9,514.8 L154.29,515.52 L154.68,517.18 L155.07,519.67 L155.46,523.11 L155.85,528.6Z M186.55,528.6 L186.94,523.11 L187.33,519.67 L187.72,517.18 L188.11,515.52 L188.5,514.8 L188.89,515.52 L189.28,517.18 L189.67,519.67 L190.06,523.11 L190.45,528.6Z" fill="#3dab5a"/>
<rect x="152.3" y="527.4" width="37.9" height="1.2" fill="#3dab5a"/>
<text x="182.8" y="491" fill="#3dab5a" stroke="#3dab5a" font-size="9.9">B2-I (OS)</text>
<text x="182.8" y="502.5" fill="#3dab5a" stroke="#3dab5a" font-size="9.9">BPSK(2)</text>
<text x="177.6" y="551" fill="#dc332e" stroke="#dc332e" font-size="9.9">B2-Q (AS)</text>
<text x="177.6" y="562.4" fill="#dc332e" stroke="#dc332e" font-size="9.9">BPSK(10)</text>
<text x="411" y="472.6" fill="#1a1a1a" stroke="#1a1a1a" font-size="9.9">1268.52 Mhz</text>
<path d="M419.2,528.8 L410.33,540.18 L407.36,545.02 L405.55,548.56 L404.39,551.38 L403.69,553.69 L403.34,555.62 L403.27,557.22 L403.45,558.55 L403.85,559.64 L404.45,560.51 L405.23,561.17 L406.19,561.63 L407.32,561.91 L408.62,562 L410.08,561.91 L411.71,561.63 L413.5,561.17 L415.48,560.51 L417.64,559.64 L419.99,558.55 L422.57,557.22 L425.39,555.62 L428.5,553.69 L431.96,551.38 L435.88,548.56 L440.45,545.02 L446.18,540.18 L457.8,528.8Z" fill="#8d2438"/>
<path d="M420.6,528.2 L421.93,512.99 L423.26,506.67 L424.59,502.06 L425.91,498.4 L427.24,495.41 L428.57,492.92 L429.9,490.85 L431.23,489.14 L432.56,487.73 L433.89,486.62 L435.21,485.77 L436.54,485.17 L437.87,484.82 L439.2,484.7 L440.53,484.82 L441.86,485.17 L443.19,485.77 L444.51,486.62 L445.84,487.73 L447.17,489.14 L448.5,490.85 L449.83,492.92 L451.16,495.41 L452.49,498.4 L453.81,502.06 L455.14,506.67 L456.47,512.99 L457.8,528.2Z" fill="#dc332e"/>
<rect x="420" y="528" width="38" height="0.7" fill="#f7d9d4"/>
<text x="458.5" y="491.1" fill="#dc332e" stroke="#dc332e" font-size="9.9">B3-I (AS)</text>
<text x="458.5" y="502.1" fill="#dc332e" stroke="#dc332e" font-size="9.9">BPSK(10)</text>
<text x="442.8" y="552.7" fill="#8d2438" stroke="#8d2438" font-size="9.9">B3-Q (AS)</text>
<text x="442.8" y="564.2" fill="#8d2438" stroke="#8d2438" font-size="9.9">BPSK(10)</text>
<text x="600.2" y="473.9" fill="#1a1a1a" stroke="#1a1a1a" font-size="9.9">1561.098 MHz</text>
<path d="M623.2,528.6 L614.88,538.19 L609.86,544.15 L605.96,548.87 L602.83,552.74 L600.34,555.9 L598.41,558.46 L596.99,560.44 L596.07,561.88 L595.64,562.77 L595.72,563.1 L596.4,562.77 L597.59,561.88 L599.27,560.44 L601.45,558.46 L604.14,555.9 L607.39,552.74 L611.28,548.87 L615.94,544.15 L621.72,538.19 L630.8,528.6Z" fill="#dc332e"/>
<path d="M623.2,528.6 L623.58,507.93 L623.96,498.64 L624.34,492.15 L624.72,487.36 L625.1,483.82 L625.48,481.26 L625.86,479.51 L626.24,478.44 L626.62,477.92 L627,477.8 L627.38,477.92 L627.76,478.44 L628.14,479.51 L628.52,481.26 L628.9,483.82 L629.28,487.36 L629.66,492.15 L630.04,498.64 L630.42,507.93 L630.8,528.6Z" fill="#3dab5a"/>
<text x="632.9" y="491.3" fill="#3dab5a" stroke="#3dab5a" font-size="9.9">B1-I (OS)</text>
<text x="632.9" y="502.2" fill="#3dab5a" stroke="#3dab5a" font-size="9.9">BPSK(2)</text>
<text x="619.5" y="549.7" fill="#dc332e" stroke="#dc332e" font-size="9.9">B1-Q (AS)</text>
<text x="619.5" y="560.7" fill="#dc332e" stroke="#dc332e" font-size="9.9">BPSK(2)</text>
<text x="82" y="592.6" fill="#1a1a1a" stroke="#1a1a1a" font-size="9.8">1176.45 MHz</text>
<text x="149.4" y="592.6" fill="#1a1a1a" stroke="#1a1a1a" font-size="9.9">1207.14 MHz</text>
<text x="110.2" y="606" fill="#1a1a1a" stroke="#1a1a1a" font-size="9.9">AltBOC(15,10)</text>
<path d="M60.7,650 L46.95,664.89 L47.37,664.89 L48.39,664.88 L49.42,664.85 L50.47,664.8 L51.55,664.72 L52.66,664.6 L53.81,664.45 L54.99,664.25 L56.22,664.01 L57.51,663.7 L58.86,663.33 L60.27,662.88 L61.77,662.35 L63.36,661.71 L65.07,660.95 L66.93,660.02 L68.99,658.88 L71.35,657.41 L74.25,655.36 L80.2,650Z M81.2,650 L76.81,655.47 L75.61,657.48 L74.96,658.89 L74.61,659.98 L74.46,660.85 L74.47,661.56 L74.6,662.12 L74.84,662.58 L75.17,662.93 L75.59,663.18 L76.09,663.35 L76.67,663.43 L77.33,663.43 L78.06,663.35 L78.87,663.18 L79.76,662.93 L80.74,662.58 L81.82,662.12 L83,661.56 L84.3,660.85 L85.76,659.98 L87.43,658.89 L89.39,657.48 L91.89,655.47 L97.6,650Z M97.4,650 L91.44,657.88 L90.07,660.79 L89.47,662.87 L89.3,664.49 L89.4,665.8 L89.72,666.88 L90.22,667.78 L90.85,668.51 L91.62,669.11 L92.49,669.59 L93.48,669.95 L94.56,670.21 L95.74,670.36 L97.01,670.41 L98.38,670.36 L99.83,670.21 L101.39,669.95 L103.04,669.59 L104.8,669.11 L106.67,668.51 L108.67,667.78 L110.81,666.88 L113.13,665.8 L115.66,664.49 L118.47,662.87 L121.7,660.79 L125.71,657.88 L134.3,650Z M135.5,650 L130.81,655.8 L129.51,657.93 L128.78,659.44 L128.37,660.61 L128.17,661.54 L128.13,662.31 L128.22,662.93 L128.42,663.43 L128.72,663.83 L129.11,664.13 L129.58,664.34 L130.13,664.47 L130.76,664.51 L131.46,664.47 L132.24,664.34 L133.1,664.13 L134.04,663.83 L135.08,663.43 L136.2,662.93 L137.45,662.31 L138.82,661.54 L140.35,660.61 L142.09,659.44 L144.15,657.93 L146.78,655.8 L152.8,650Z M152.6,650 L146.61,657.88 L145.21,660.79 L144.58,662.87 L144.37,664.49 L144.44,665.8 L144.73,666.88 L145.19,667.78 L145.8,668.51 L146.53,669.11 L147.37,669.59 L148.33,669.95 L149.38,670.21 L150.52,670.36 L151.76,670.41 L153.09,670.36 L154.52,670.21 L156.04,669.95 L157.66,669.59 L159.38,669.11 L161.22,668.51 L163.19,667.78 L165.3,666.88 L167.59,665.8 L170.08,664.49 L172.86,662.87 L176.06,660.79 L180.04,657.88 L188.6,650Z M189.8,650 L185.41,655.47 L184.21,657.48 L183.56,658.89 L183.21,659.98 L183.06,660.85 L183.07,661.56 L183.2,662.12 L183.44,662.58 L183.77,662.93 L184.19,663.18 L184.69,663.35 L185.27,663.43 L185.93,663.43 L186.66,663.35 L187.47,663.18 L188.36,662.93 L189.34,662.58 L190.42,662.12 L191.6,661.56 L192.9,660.85 L194.36,659.98 L196.03,658.89 L197.99,657.48 L200.49,655.47 L206.2,650Z M207.1,650 L203.2,655.36 L202.34,657.41 L202.03,658.88 L202.01,660.02 L202.2,660.95 L202.53,661.71 L202.98,662.35 L203.53,662.88 L204.16,663.33 L204.86,663.7 L205.61,664.01 L206.43,664.25 L207.28,664.45 L208.18,664.6 L209.12,664.72 L210.09,664.8 L211.08,664.85 L212.09,664.88 L213.12,664.89 L213.55,664.89 L227.3,650Z" fill="#2a1b70"/>
<path d="M60.7,650.5 L60.7,619.7 L61.12,619.7 L62.12,619.73 L63.13,619.79 L64.13,619.9 L65.14,620.07 L66.14,620.3 L67.14,620.62 L68.15,621.03 L69.15,621.54 L70.16,622.17 L71.16,622.94 L72.17,623.86 L73.17,624.96 L74.17,626.28 L75.18,627.86 L76.18,629.78 L77.19,632.14 L78.19,635.17 L79.2,639.42 L80.2,650.5Z M81.2,650.5 L81.86,639.19 L82.51,635.04 L83.17,632.12 L83.82,629.86 L84.48,628.06 L85.14,626.6 L85.79,625.43 L86.45,624.49 L87.1,623.77 L87.76,623.24 L88.42,622.89 L89.07,622.72 L89.73,622.72 L90.38,622.89 L91.04,623.24 L91.7,623.77 L92.35,624.49 L93.01,625.43 L93.66,626.6 L94.32,628.06 L94.98,629.86 L95.63,632.12 L96.29,635.04 L96.94,639.19 L97.6,650.5Z M97.4,650.5 L98.72,634.2 L100.04,628.18 L101.35,623.89 L102.67,620.54 L103.99,617.83 L105.31,615.59 L106.63,613.74 L107.94,612.22 L109.26,610.98 L110.58,609.99 L111.9,609.24 L113.21,608.72 L114.53,608.4 L115.85,608.3 L117.17,608.4 L118.49,608.72 L119.8,609.24 L121.12,609.99 L122.44,610.98 L123.76,612.22 L125.08,613.74 L126.39,615.59 L127.71,617.83 L129.03,620.54 L130.35,623.89 L131.66,628.18 L132.98,634.2 L134.3,650.5Z M135.5,650.5 L136.17,638.51 L136.83,634.1 L137.5,630.98 L138.16,628.57 L138.83,626.63 L139.49,625.05 L140.16,623.76 L140.82,622.72 L141.49,621.9 L142.15,621.28 L142.82,620.84 L143.48,620.59 L144.15,620.5 L144.82,620.59 L145.48,620.84 L146.15,621.28 L146.81,621.9 L147.48,622.72 L148.14,623.76 L148.81,625.05 L149.47,626.63 L150.14,628.57 L150.8,630.98 L151.47,634.1 L152.13,638.51 L152.8,650.5Z M152.6,650.5 L153.89,634.2 L155.17,628.18 L156.46,623.89 L157.74,620.54 L159.03,617.83 L160.31,615.59 L161.6,613.74 L162.89,612.22 L164.17,610.98 L165.46,609.99 L166.74,609.24 L168.03,608.72 L169.31,608.4 L170.6,608.3 L171.89,608.4 L173.17,608.72 L174.46,609.24 L175.74,609.99 L177.03,610.98 L178.31,612.22 L179.6,613.74 L180.89,615.59 L182.17,617.83 L183.46,620.54 L184.74,623.89 L186.03,628.18 L187.31,634.2 L188.6,650.5Z M189.8,650.5 L190.46,639.19 L191.11,635.04 L191.77,632.12 L192.42,629.86 L193.08,628.06 L193.74,626.6 L194.39,625.43 L195.05,624.49 L195.7,623.77 L196.36,623.24 L197.02,622.89 L197.67,622.72 L198.33,622.72 L198.98,622.89 L199.64,623.24 L200.3,623.77 L200.95,624.49 L201.61,625.43 L202.26,626.6 L202.92,628.06 L203.58,629.86 L204.23,632.12 L204.89,635.04 L205.54,639.19 L206.2,650.5Z M207.1,650.5 L208.14,639.42 L209.18,635.17 L210.22,632.14 L211.26,629.78 L212.3,627.86 L213.34,626.28 L214.38,624.96 L215.42,623.86 L216.46,622.94 L217.5,622.17 L218.54,621.54 L219.58,621.03 L220.62,620.62 L221.66,620.3 L222.7,620.07 L223.74,619.9 L224.79,619.79 L225.83,619.73 L226.87,619.7 L227.3,619.7 L227.3,650.5Z" fill="#354c97"/>
<text x="58.4" y="611.7" fill="#354c97" stroke="#354c97" font-size="9.9">B2a-D(OS)</text>
<text x="180.4" y="609.6" fill="#354c97" stroke="#354c97" font-size="9.9">B2b-D (OS)</text>
<text x="46.9" y="680.4" fill="#354c97" stroke="#354c97" font-size="9.9">B2a-P(OS)</text>
<text x="162.8" y="681.4" fill="#354c97" stroke="#354c97" font-size="9.9">B2b-P (OS)</text>
<text x="411" y="596" fill="#1a1a1a" stroke="#1a1a1a" font-size="9.9">1268.52 Mhz</text>
<path d="M416.8,649 L412.77,656.23 L411.65,659.72 L411.19,662.35 L411.13,664.48 L411.34,666.25 L411.78,667.74 L412.4,668.99 L413.18,670.04 L414.11,670.89 L415.17,671.58 L416.36,672.1 L417.66,672.47 L419.08,672.69 L420.62,672.76 L422.27,672.69 L424.03,672.47 L425.91,672.1 L427.91,671.58 L430.04,670.89 L432.3,670.04 L434.7,668.99 L437.27,667.74 L440.02,666.25 L442.99,664.48 L446.24,662.35 L449.88,659.72 L454.18,656.23 L461.4,649Z M396.9,649 L394.73,652.18 L393.9,653.86 L393.42,655.17 L393.15,656.24 L393.04,657.15 L393.05,657.91 L393.17,658.56 L393.38,659.1 L393.68,659.54 L394.06,659.9 L394.51,660.17 L395.04,660.37 L395.64,660.48 L396.31,660.52 L397.05,660.48 L397.86,660.37 L398.73,660.17 L399.69,659.9 L400.71,659.54 L401.82,659.1 L403.02,658.56 L404.3,657.91 L405.7,657.15 L407.22,656.24 L408.9,655.17 L410.79,653.86 L413.02,652.18 L416.6,649Z M460.9,649 L459.42,652.28 L458.98,654.01 L458.81,655.36 L458.81,656.47 L458.92,657.4 L459.14,658.19 L459.43,658.85 L459.8,659.41 L460.24,659.87 L460.74,660.24 L461.29,660.52 L461.91,660.72 L462.58,660.84 L463.3,660.88 L464.08,660.84 L464.91,660.72 L465.79,660.52 L466.74,660.24 L467.74,659.87 L468.8,659.41 L469.93,658.85 L471.14,658.19 L472.42,657.4 L473.81,656.47 L475.31,655.36 L476.98,654.01 L478.92,652.28 L481.9,649Z" fill="#ab5b3d"/>
<rect x="396.9" y="648.8" width="85" height="1.2" fill="#ab5b3d"/>
<path d="M420.1,649 L421.41,635.88 L422.71,629.56 L424.02,624.78 L425.33,620.91 L426.64,617.7 L427.94,615 L429.25,612.73 L430.56,610.84 L431.86,609.29 L433.17,608.05 L434.48,607.1 L435.79,606.43 L437.09,606.03 L438.4,605.9 L439.71,606.03 L441.01,606.43 L442.32,607.1 L443.63,608.05 L444.94,609.29 L446.24,610.84 L447.55,612.73 L448.86,615 L450.16,617.7 L451.47,620.91 L452.78,624.78 L454.09,629.56 L455.39,635.88 L456.7,649Z" fill="#8d2438"/>
<path d="M401.2,649 L401.86,634.54 L402.51,625.56 L403.17,618.46 L403.82,612.72 L404.48,608.14 L405.14,604.64 L405.79,602.25 L406.45,601.2 L407.11,602.25 L407.76,604.64 L408.42,608.14 L409.07,612.72 L409.73,618.46 L410.39,625.56 L411.04,634.54 L411.7,649Z M465.4,649 L466.04,634.54 L466.69,625.56 L467.33,618.46 L467.97,612.72 L468.62,608.14 L469.26,604.64 L469.91,602.25 L470.55,601.2 L471.19,602.25 L471.84,604.64 L472.48,608.14 L473.12,612.72 L473.77,618.46 L474.41,625.56 L475.06,634.54 L475.7,649Z M396.9,649 L397.33,644.27 L397.75,641.38 L398.18,639.42 L398.6,638.5 L399.03,639.42 L399.45,641.38 L399.88,644.27 L400.3,649Z M412,649 L412.52,639.72 L413.05,634.04 L413.58,630.21 L414.1,628.4 L414.62,630.21 L415.15,634.04 L415.68,639.72 L416.2,649Z M417.8,649 L418.27,643.15 L418.75,639.56 L419.23,637.14 L419.7,636 L420.17,637.14 L420.65,639.56 L421.12,643.15 L421.6,649Z M423.2,649 L423.65,644.99 L424.1,642.54 L424.55,640.88 L425,640.1 L425.45,640.88 L425.9,642.54 L426.35,644.99 L426.8,649Z M428.7,649 L429.12,646.03 L429.55,644.21 L429.97,642.98 L430.4,642.4 L430.82,642.98 L431.25,644.21 L431.67,646.03 L432.1,649Z M434.2,649 L434.62,646.48 L435.05,644.93 L435.47,643.89 L435.9,643.4 L436.32,643.89 L436.75,644.93 L437.17,646.48 L437.6,649Z M439.8,649 L440.23,646.48 L440.65,644.93 L441.07,643.89 L441.5,643.4 L441.93,643.89 L442.35,644.93 L442.77,646.48 L443.2,649Z M445.1,649 L445.53,646.03 L445.95,644.21 L446.38,642.98 L446.8,642.4 L447.23,642.98 L447.65,644.21 L448.07,646.03 L448.5,649Z M450.4,649 L450.85,644.99 L451.3,642.54 L451.75,640.88 L452.2,640.1 L452.65,640.88 L453.1,642.54 L453.55,644.99 L454,649Z M455.7,649 L456.18,643.15 L456.65,639.56 L457.12,637.14 L457.6,636 L458.08,637.14 L458.55,639.56 L459.02,643.15 L459.5,649Z M461.2,649 L461.73,639.72 L462.25,634.04 L462.77,630.21 L463.3,628.4 L463.83,630.21 L464.35,634.04 L464.88,639.72 L465.4,649Z M477.1,649 L477.53,644.27 L477.95,641.38 L478.38,639.42 L478.8,638.5 L479.23,639.42 L479.65,641.38 L480.07,644.27 L480.5,649Z" fill="#dc332e"/>
<rect x="397" y="647.9" width="84.8" height="1.1" fill="#dc332e"/>
<text x="479.2" y="600.7" fill="#8d2438" stroke="#8d2438" font-size="9.9">B3(AS)</text>
<text x="479.2" y="611.8" fill="#8d2438" stroke="#8d2438" font-size="9.9">BPSK(10)</text>
<text x="483.8" y="626.7" fill="#dc332e" stroke="#dc332e" font-size="9.9">B3-A(AS)</text>
<text x="483.8" y="637.8" fill="#dc332e" stroke="#dc332e" font-size="9.9">BOC(15,2.5)</text>
<text x="447" y="673.9" fill="#ab5b3d" stroke="#ab5b3d" font-size="9.9">B3(AS)</text>
<text x="447" y="684.9" fill="#ab5b3d" stroke="#ab5b3d" font-size="9.9">BPSK(10)</text>
<text x="624" y="581" fill="#1a1a1a" stroke="#1a1a1a" font-size="9.9">1575.42 MHz</text>
<path d="M648.7,648.5 L648.97,619.34 L649.23,606.75 L649.5,598.52 L649.77,593.15 L650.03,590.1 L650.3,589.1 L650.57,590.1 L650.83,593.15 L651.1,598.52 L651.37,606.75 L651.63,619.34 L651.9,648.5Z M651.9,648.5 L652.17,619.34 L652.43,606.75 L652.7,598.52 L652.97,593.15 L653.23,590.1 L653.5,589.1 L653.77,590.1 L654.03,593.15 L654.3,598.52 L654.57,606.75 L654.83,619.34 L655.1,648.5Z M648.6,648.5 L649.15,615.24 L649.7,607.66 L650.25,603.94 L650.8,602.2 L651.35,601.59 L651.9,601.5 L652.45,601.59 L653,602.2 L653.55,603.94 L654.1,607.66 L654.65,615.24 L655.2,648.5Z M644.5,648.5 L644.8,632.07 L645.1,622.57 L645.4,615.84 L645.7,611.41 L646,609.5 L646.3,611.41 L646.6,615.84 L646.9,622.57 L647.2,632.07 L647.5,648.5Z M655.9,648.5 L656.2,632.07 L656.5,622.57 L656.8,615.84 L657.1,611.41 L657.4,609.5 L657.7,611.41 L658,615.84 L658.3,622.57 L658.6,632.07 L658.9,648.5Z M637.2,648.5 L637.67,637.24 L638.14,629.65 L638.61,623.53 L639.09,618.56 L639.56,614.65 L640.03,611.86 L640.5,610.5 L640.97,611.86 L641.44,614.65 L641.91,618.56 L642.39,623.53 L642.86,629.65 L643.33,637.24 L643.8,648.5Z M660,648.5 L660.47,637.24 L660.94,629.65 L661.41,623.53 L661.89,618.56 L662.36,614.65 L662.83,611.86 L663.3,610.5 L663.77,611.86 L664.24,614.65 L664.71,618.56 L665.19,623.53 L665.66,629.65 L666.13,637.24 L666.6,648.5Z M615.6,648.5 L615.98,641.14 L616.35,635.96 L616.73,632.02 L617.1,629.7 L617.48,632.02 L617.85,635.96 L618.23,641.14 L618.6,648.5Z M685,648.5 L685.38,641.14 L685.75,635.96 L686.12,632.02 L686.5,629.7 L686.88,632.02 L687.25,635.96 L687.62,641.14 L688,648.5Z M613.4,648.5 L613.7,644.98 L614,642.5 L614.3,640.61 L614.6,639.5 L614.9,640.61 L615.2,642.5 L615.5,644.98 L615.8,648.5Z M687.6,648.5 L687.9,644.98 L688.2,642.5 L688.5,640.61 L688.8,639.5 L689.1,640.61 L689.4,642.5 L689.7,644.98 L690,648.5Z M638.5,648.5 L640.41,633.29 L642.33,628.57 L644.24,625.95 L646.16,624.5 L648.07,623.79 L649.99,623.54 L651.9,623.5 L653.81,623.54 L655.73,623.79 L657.64,624.5 L659.56,625.95 L661.47,628.57 L663.39,633.29 L665.3,648.5Z" fill="#4fb153"/>
<path d="M621.8,648.5 L622.19,630.93 L622.59,621.15 L622.98,613.78 L623.38,608.03 L623.77,603.58 L624.17,600.25 L624.56,597.93 L624.96,596.55 L625.35,596.1 L625.74,596.55 L626.14,597.93 L626.53,600.25 L626.93,603.58 L627.32,608.03 L627.72,613.78 L628.11,621.15 L628.51,630.93 L628.9,648.5Z M674.7,648.5 L675.14,630.93 L675.59,621.15 L676.03,613.78 L676.48,608.03 L676.92,603.58 L677.37,600.25 L677.81,597.93 L678.26,596.55 L678.7,596.1 L679.14,596.55 L679.59,597.93 L680.03,600.25 L680.48,603.58 L680.92,608.03 L681.37,613.78 L681.81,621.15 L682.26,630.93 L682.7,648.5Z M613.85,648.5 L614.22,644.41 L614.59,641.83 L614.96,639.98 L615.33,638.74 L615.7,638.2 L616.07,638.74 L616.44,639.98 L616.81,641.83 L617.18,644.41 L617.55,648.5Z M617.45,648.5 L617.82,639.59 L618.19,634.01 L618.56,629.96 L618.93,627.27 L619.3,626.1 L619.67,627.27 L620.04,629.96 L620.41,634.01 L620.78,639.59 L621.15,648.5Z M628.65,648.5 L629.02,636.77 L629.39,629.41 L629.76,624.09 L630.13,620.54 L630.5,619 L630.87,620.54 L631.24,624.09 L631.61,629.41 L631.98,636.77 L632.35,648.5Z M632.65,648.5 L633.02,639.48 L633.39,633.81 L633.76,629.71 L634.13,626.99 L634.5,625.8 L634.87,626.99 L635.24,629.71 L635.61,633.81 L635.98,639.48 L636.35,648.5Z M636.55,648.5 L636.92,641.03 L637.29,636.33 L637.66,632.94 L638.03,630.68 L638.4,629.7 L638.77,630.68 L639.14,632.94 L639.51,636.33 L639.88,641.03 L640.25,648.5Z M640.15,648.5 L640.52,641.98 L640.89,637.89 L641.26,634.93 L641.63,632.96 L642,632.1 L642.37,632.96 L642.74,634.93 L643.11,637.89 L643.48,641.98 L643.85,648.5Z M644.05,648.5 L644.42,642.46 L644.79,638.66 L645.16,635.92 L645.53,634.09 L645.9,633.3 L646.27,634.09 L646.64,635.92 L647.01,638.66 L647.38,642.46 L647.75,648.5Z M648.05,648.5 L648.42,642.7 L648.79,639.05 L649.16,636.42 L649.53,634.66 L649.9,633.9 L650.27,634.66 L650.64,636.42 L651.01,639.05 L651.38,642.7 L651.75,648.5Z M651.95,648.5 L652.32,642.46 L652.69,638.66 L653.06,635.92 L653.43,634.09 L653.8,633.3 L654.17,634.09 L654.54,635.92 L654.91,638.66 L655.28,642.46 L655.65,648.5Z M655.65,648.5 L656.02,642.38 L656.39,638.53 L656.76,635.75 L657.13,633.9 L657.5,633.1 L657.87,633.9 L658.24,635.75 L658.61,638.53 L658.98,642.38 L659.35,648.5Z M659.55,648.5 L659.92,641.9 L660.29,637.76 L660.66,634.76 L661.03,632.77 L661.4,631.9 L661.77,632.77 L662.14,634.76 L662.51,637.76 L662.88,641.9 L663.25,648.5Z M663.45,648.5 L663.82,641.03 L664.19,636.33 L664.56,632.94 L664.93,630.68 L665.3,629.7 L665.67,630.68 L666.04,632.94 L666.41,636.33 L666.78,641.03 L667.15,648.5Z M667.25,648.5 L667.62,639.48 L667.99,633.81 L668.36,629.71 L668.73,626.99 L669.1,625.8 L669.47,626.99 L669.84,629.71 L670.21,633.81 L670.58,639.48 L670.95,648.5Z M671.35,648.5 L671.72,636.93 L672.09,629.67 L672.46,624.42 L672.83,620.92 L673.2,619.4 L673.57,620.92 L673.94,624.42 L674.31,629.67 L674.68,636.93 L675.05,648.5Z M682.25,648.5 L682.62,639.83 L682.99,634.39 L683.36,630.46 L683.73,627.84 L684.1,626.7 L684.47,627.84 L684.84,630.46 L685.21,634.39 L685.58,639.83 L685.95,648.5Z M686.05,648.5 L686.42,644.29 L686.79,641.64 L687.16,639.73 L687.53,638.45 L687.9,637.9 L688.27,638.45 L688.64,639.73 L689.01,641.64 L689.38,644.29 L689.75,648.5Z" fill="#dc332e"/>
<text x="685" y="607" fill="#4fb153" stroke="#4fb153" font-size="9.9">B1-C</text>
<text x="685" y="618.3" fill="#4fb153" stroke="#4fb153" font-size="9.9">MBOC(6,1,1/11)</text>
<text x="696.2" y="633.5" fill="#dc332e" stroke="#dc332e" font-size="9.9">B1</text>
<text x="696.2" y="644.8" fill="#dc332e" stroke="#dc332e" font-size="9.9">BOC(14,2)</text>
<text x="88.8" y="715.8" fill="#1a1a1a" stroke="#1a1a1a" font-size="9.8">1176.45 MHz</text>
<path d="M99.3,757 L92.59,766.86 L90.32,771.23 L88.96,774.47 L88.13,777.06 L87.67,779.19 L87.49,780.97 L87.54,782.46 L87.8,783.7 L88.25,784.71 L88.85,785.52 L89.62,786.14 L90.53,786.57 L91.58,786.83 L92.77,786.91 L94.1,786.83 L95.57,786.57 L97.18,786.14 L98.94,785.52 L100.85,784.71 L102.93,783.7 L105.19,782.46 L107.66,780.97 L110.36,779.19 L113.34,777.06 L116.7,774.47 L120.58,771.23 L125.37,766.86 L134.6,757Z M93.2,757 L77.7,773.4 L78.19,773.36 L78.77,773.22 L79.46,772.97 L80.28,772.58 L81.24,772.04 L82.36,771.33 L83.67,770.42 L85.2,769.27 L87.03,767.81 L89.27,765.92 L92.22,763.27 L98.6,757Z M135.9,757 L134.03,759.36 L132.86,761 L131.93,762.36 L131.18,763.54 L130.59,764.56 L130.12,765.44 L129.77,766.2 L129.55,766.83 L129.43,767.33 L129.44,767.72 L129.57,767.97 L129.84,768.07 L140.3,757Z" fill="#218239"/>
<path d="M91.8,757 L140.3,757 L140.3,758.1 L90.6,758.1 Z" fill="#218239"/>
<path d="M100.1,755.9 L101.34,742.23 L102.59,736.55 L103.83,732.4 L105.07,729.12 L106.31,726.43 L107.56,724.19 L108.8,722.33 L110.04,720.79 L111.29,719.53 L112.53,718.53 L113.77,717.76 L115.01,717.22 L116.26,716.91 L117.5,716.8 L118.74,716.91 L119.99,717.22 L121.23,717.76 L122.47,718.53 L123.71,719.53 L124.96,720.79 L126.2,722.33 L127.44,724.19 L128.69,726.43 L129.93,729.12 L131.17,732.4 L132.41,736.55 L133.66,742.23 L134.9,755.9Z M93.6,755.9 L93.6,735.8 L94,735.85 L94.4,736.02 L94.8,736.33 L95.2,736.81 L95.6,737.47 L96,738.34 L96.4,739.45 L96.8,740.86 L97.2,742.65 L97.6,744.97 L98,748.21 L98.4,755.9Z M135.9,755.9 L136.3,748.52 L136.7,745.4 L137.1,743.17 L137.5,741.46 L137.9,740.11 L138.3,739.04 L138.7,738.2 L139.1,737.57 L139.5,737.11 L139.9,736.81 L140.3,736.64 L140.7,736.6 L140.7,755.9Z" fill="#6cba68"/>
<text x="136.4" y="725" fill="#6cba68" stroke="#6cba68" font-size="9.9">L5-I</text>
<text x="136.4" y="735.8" fill="#6cba68" stroke="#6cba68" font-size="9.9">BPSK(10)</text>
<text x="136.6" y="769.6" fill="#218239" stroke="#218239" font-size="9.9">L5-Q</text>
<text x="136.6" y="780.8" fill="#218239" stroke="#218239" font-size="9.9">BPSK(10)</text>
<text x="278.4" y="703.4" fill="#1a1a1a" stroke="#1a1a1a" font-size="9.9">1227.6 MHz</text>
<text x="260.4" y="711.2" fill="#6cba68" stroke="#6cba68" font-size="9.9">L2C</text>
<text x="260.4" y="721.9" fill="#6cba68" stroke="#6cba68" font-size="9.9">BPSK(1)</text>
<polygon points="275,756.3 275.5,748.1 278,747.1 281,745.8 283.6,744.6 286.1,743 288.7,741 291.2,738.9 293.3,736.9 295.3,734.3 297.9,728.7 300.5,722.1 303.5,704.4 303.5,704.4 306.5,722.1 309.1,728.7 311.7,734.3 313.7,736.9 315.8,738.9 318.3,741 320.9,743 323.4,744.6 326,745.8 329,747.1 331.5,748.1 332,756.3" fill="#6cba68" opacity="0.45"/>
<path d="M300.6,756.3 L300.96,744.06 L301.33,734.89 L301.69,727.05 L302.05,720.27 L302.41,714.48 L302.77,709.7 L303.14,706.07 L303.5,704.1 L303.86,706.07 L304.23,709.7 L304.59,714.48 L304.95,720.27 L305.31,727.05 L305.67,734.89 L306.04,744.06 L306.4,756.3Z M305.5,756.3 L305.76,731.98 L306.01,725.68 L306.27,722.84 L306.52,722.1 L306.78,722.84 L307.04,725.68 L307.29,731.98 L307.55,756.3Z M299.45,756.3 L299.71,731.98 L299.96,725.68 L300.22,722.84 L300.48,722.1 L300.73,722.84 L300.99,725.68 L301.24,731.98 L301.5,756.3Z M307.5,756.3 L307.76,735.59 L308.01,730.22 L308.27,727.81 L308.52,727.18 L308.78,727.81 L309.04,730.22 L309.29,735.59 L309.55,756.3Z M297.45,756.3 L297.71,735.59 L297.96,730.22 L298.22,727.81 L298.48,727.18 L298.73,727.81 L298.99,730.22 L299.24,735.59 L299.5,756.3Z M309.5,756.3 L309.76,738.81 L310.01,734.29 L310.27,732.25 L310.52,731.72 L310.78,732.25 L311.04,734.29 L311.29,738.81 L311.55,756.3Z M295.45,756.3 L295.71,738.81 L295.96,734.29 L296.22,732.25 L296.48,731.72 L296.73,732.25 L296.99,734.29 L297.24,738.81 L297.5,756.3Z M311.5,756.3 L311.76,741.39 L312.01,737.53 L312.27,735.79 L312.52,735.34 L312.78,735.79 L313.04,737.53 L313.29,741.39 L313.55,756.3Z M293.45,756.3 L293.71,741.39 L293.96,737.53 L294.22,735.79 L294.48,735.34 L294.73,735.79 L294.99,737.53 L295.24,741.39 L295.5,756.3Z M313.5,756.3 L313.76,743.04 L314.01,739.61 L314.27,738.06 L314.52,737.66 L314.78,738.06 L315.04,739.61 L315.29,743.04 L315.55,756.3Z M291.45,756.3 L291.71,743.04 L291.96,739.61 L292.22,738.06 L292.48,737.66 L292.73,738.06 L292.99,739.61 L293.24,743.04 L293.5,756.3Z M315.5,756.3 L315.76,744.34 L316.01,741.25 L316.27,739.85 L316.52,739.49 L316.78,739.85 L317.04,741.25 L317.29,744.34 L317.55,756.3Z M289.45,756.3 L289.71,744.34 L289.96,741.25 L290.22,739.85 L290.48,739.49 L290.73,739.85 L290.99,741.25 L291.24,744.34 L291.5,756.3Z M317.5,756.3 L317.76,745.53 L318.01,742.74 L318.27,741.48 L318.52,741.15 L318.78,741.48 L319.04,742.74 L319.29,745.53 L319.55,756.3Z M287.45,756.3 L287.71,745.53 L287.96,742.74 L288.22,741.48 L288.48,741.15 L288.73,741.48 L288.99,742.74 L289.24,745.53 L289.5,756.3Z M319.5,756.3 L319.76,746.62 L320.01,744.12 L320.27,742.99 L320.52,742.69 L320.78,742.99 L321.04,744.12 L321.29,746.62 L321.55,756.3Z M285.45,756.3 L285.71,746.62 L285.96,744.12 L286.22,742.99 L286.48,742.69 L286.73,742.99 L286.99,744.12 L287.24,746.62 L287.5,756.3Z M321.5,756.3 L321.76,747.57 L322.01,745.31 L322.27,744.29 L322.52,744.02 L322.78,744.29 L323.04,745.31 L323.29,747.57 L323.55,756.3Z M283.45,756.3 L283.71,747.57 L283.96,745.31 L284.22,744.29 L284.48,744.02 L284.73,744.29 L284.99,745.31 L285.24,747.57 L285.5,756.3Z M323.5,756.3 L323.76,748.34 L324.01,746.28 L324.27,745.35 L324.52,745.11 L324.78,745.35 L325.04,746.28 L325.29,748.34 L325.55,756.3Z M281.45,756.3 L281.71,748.34 L281.96,746.28 L282.22,745.35 L282.48,745.11 L282.73,745.35 L282.99,746.28 L283.24,748.34 L283.5,756.3Z M325.5,756.3 L325.76,748.99 L326.01,747.09 L326.27,746.24 L326.52,746.02 L326.78,746.24 L327.04,747.09 L327.29,748.99 L327.55,756.3Z M279.45,756.3 L279.71,748.99 L279.96,747.09 L280.22,746.24 L280.48,746.02 L280.73,746.24 L280.99,747.09 L281.24,748.99 L281.5,756.3Z M327.5,756.3 L327.76,749.6 L328.01,747.87 L328.27,747.09 L328.52,746.88 L328.78,747.09 L329.04,747.87 L329.29,749.6 L329.55,756.3Z M277.45,756.3 L277.71,749.6 L277.96,747.87 L278.22,747.09 L278.48,746.88 L278.73,747.09 L278.99,747.87 L279.24,749.6 L279.5,756.3Z M329.5,756.3 L329.76,750.18 L330.01,748.6 L330.27,747.89 L330.52,747.7 L330.78,747.89 L331.04,748.6 L331.29,750.18 L331.55,756.3Z M275.45,756.3 L275.71,750.18 L275.96,748.6 L276.22,747.89 L276.48,747.7 L276.73,747.89 L276.99,748.6 L277.24,750.18 L277.5,756.3Z" fill="#6cba68"/>
<rect x="275" y="754.1" width="57" height="2.2" fill="#6cba68"/>
<text x="425.5" y="709.9" fill="#1a1a1a" stroke="#1a1a1a" font-size="9.9">1278.75 MHz</text>
<text x="467.8" y="718.8" fill="#354c97" stroke="#354c97" font-size="9.9">LEX</text>
<text x="467.8" y="730.1" fill="#354c97" stroke="#354c97" font-size="9.9">BPSK(5)</text>
<path d="M443.9,756.2 L444.57,742.75 L445.23,736.02 L445.9,730.9 L446.57,726.75 L447.23,723.29 L447.9,720.4 L448.57,717.99 L449.23,715.99 L449.9,714.37 L450.57,713.1 L451.23,712.16 L451.9,711.55 L452.57,711.24 L453.23,711.24 L453.9,711.55 L454.57,712.16 L455.23,713.1 L455.9,714.37 L456.57,715.99 L457.23,717.99 L457.9,720.4 L458.57,723.29 L459.23,726.75 L459.9,730.9 L460.57,736.02 L461.23,742.75 L461.9,756.2Z M435.6,756.2 L436.12,746.57 L436.65,741.29 L437.18,737.39 L437.7,734.45 L438.23,732.28 L438.75,730.77 L439.28,729.89 L439.8,729.6 L440.32,729.89 L440.85,730.77 L441.38,732.28 L441.9,734.45 L442.43,737.39 L442.95,741.29 L443.48,746.57 L444,756.2Z M426.8,756.2 L427.32,748.88 L427.85,744.88 L428.38,741.92 L428.9,739.68 L429.43,738.03 L429.95,736.89 L430.48,736.22 L431,736 L431.52,736.22 L432.05,736.89 L432.57,738.03 L433.1,739.68 L433.62,741.92 L434.15,744.88 L434.68,748.88 L435.2,756.2Z M418.2,756.2 L418.75,750 L419.29,746.64 L419.84,744.2 L420.39,742.39 L420.93,741.1 L421.48,740.26 L422.03,739.85 L422.57,739.85 L423.12,740.26 L423.67,741.1 L424.21,742.39 L424.76,744.2 L425.31,746.64 L425.85,750 L426.4,756.2Z M461.7,756.2 L462.22,746.57 L462.75,741.29 L463.27,737.39 L463.8,734.45 L464.32,732.28 L464.85,730.77 L465.38,729.89 L465.9,729.6 L466.43,729.89 L466.95,730.77 L467.48,732.28 L468,734.45 L468.53,737.39 L469.05,741.29 L469.58,746.57 L470.1,756.2Z M470.5,756.2 L471.05,748.88 L471.6,744.88 L472.15,741.92 L472.7,739.68 L473.25,738.03 L473.8,736.89 L474.35,736.22 L474.9,736 L475.45,736.22 L476,736.89 L476.55,738.03 L477.1,739.68 L477.65,741.92 L478.2,744.88 L478.75,748.88 L479.3,756.2Z M480,756.2 L480.53,750 L481.07,746.64 L481.6,744.2 L482.13,742.39 L482.67,741.1 L483.2,740.26 L483.73,739.85 L484.27,739.85 L484.8,740.26 L485.33,741.1 L485.87,742.39 L486.4,744.2 L486.93,746.64 L487.47,750 L488,756.2Z" fill="#354c97"/>
<text x="625.5" y="703.4" fill="#1a1a1a" stroke="#1a1a1a" font-size="9.9">1575.42 MHz</text>
<path d="M647.4,756.1 L638.74,766.37 L633.01,773.3 L628.45,778.88 L624.82,783.42 L622.04,786.98 L620.14,789.54 L619.4,790.77 L620.83,789.54 L623.41,786.98 L626.88,783.42 L631.2,778.88 L636.43,773.3 L642.85,766.37 L652.2,756.1Z M651.8,756.1 L643.61,765.83 L638.2,772.4 L633.91,777.68 L630.48,781.98 L627.86,785.36 L626.09,787.78 L625.4,788.95 L626.77,787.78 L629.23,785.36 L632.54,781.98 L636.65,777.68 L641.63,772.4 L647.72,765.83 L656.6,756.1Z M645.15,756.1 L636.26,766.55 L631.22,772.6 L627.74,776.89 L625.54,779.7 L624.74,780.92 L626.08,779.7 L628.82,776.89 L632.84,772.6 L638.42,766.55 L647.85,756.1Z M656.15,756.1 L647.26,766.55 L642.22,772.6 L638.74,776.89 L636.54,779.7 L635.74,780.92 L637.08,779.7 L639.82,776.89 L643.84,772.6 L649.42,766.55 L658.85,756.1Z M641.25,756.1 L633.84,764.86 L629.66,769.93 L626.78,773.52 L624.98,775.89 L624.36,776.9 L625.52,775.89 L627.86,773.52 L631.28,769.93 L636,764.86 L643.95,756.1Z M660.05,756.1 L652.64,764.86 L648.46,769.93 L645.58,773.52 L643.78,775.89 L643.16,776.9 L644.32,775.89 L646.66,773.52 L650.08,769.93 L654.8,764.86 L662.75,756.1Z M637.35,756.1 L630.99,763.66 L627.42,768.04 L624.98,771.14 L623.46,773.18 L622.96,774.06 L624,773.18 L626.06,771.14 L629.04,768.04 L633.15,763.66 L640.05,756.1Z M663.95,756.1 L657.59,763.66 L654.02,768.04 L651.58,771.14 L650.06,773.18 L649.56,774.06 L650.6,773.18 L652.66,771.14 L655.64,768.04 L659.75,763.66 L666.65,756.1Z M633.55,756.1 L628.11,762.62 L625.07,766.39 L623,769.06 L621.73,770.82 L621.33,771.58 L622.27,770.82 L624.08,769.06 L626.69,766.39 L630.27,762.62 L636.25,756.1Z M667.75,756.1 L662.31,762.62 L659.27,766.39 L657.2,769.06 L655.93,770.82 L655.53,771.58 L656.47,770.82 L658.28,769.06 L660.89,766.39 L664.47,762.62 L670.45,756.1Z M644.05,756.1 L637.94,763.28 L632.74,769.42 L629.24,773.62 L633.11,769.42 L638.67,763.28 L645.15,756.1Z M640.15,756.1 L635.35,761.78 L631.27,766.64 L628.54,769.97 L631.64,766.64 L636.08,761.78 L641.25,756.1Z M658.85,756.1 L652.48,763.58 L647.05,769.97 L643.4,774.35 L647.42,769.97 L653.21,763.58 L659.95,756.1Z M662.75,756.1 L657.43,762.38 L652.9,767.75 L649.86,771.43 L653.27,767.75 L658.16,762.38 L663.85,756.1Z M666.65,756.1 L662.38,761.18 L658.75,765.53 L656.32,768.51 L659.11,765.53 L663.11,761.18 L667.75,756.1Z" fill="#1c6d34"/>
<rect x="633.2" y="755.9" width="37.4" height="1.6" fill="#1c6d34"/>
<path d="M648.2,756.1 L648.46,735.88 L648.72,724.18 L648.98,715.9 L649.24,710.45 L649.5,708.1 L649.76,710.45 L650.02,715.9 L650.28,724.18 L650.54,735.88 L650.8,756.1Z M653.2,756.1 L653.46,735.88 L653.72,724.18 L653.98,715.9 L654.24,710.45 L654.5,708.1 L654.76,710.45 L655.02,715.9 L655.28,724.18 L655.54,735.88 L655.8,756.1Z M645.3,756.1 L645.54,741.44 L645.78,732.96 L646.02,726.96 L646.26,723.01 L646.5,721.3 L646.74,723.01 L646.98,726.96 L647.22,732.96 L647.46,741.44 L647.7,756.1Z M656.3,756.1 L656.54,741.44 L656.78,732.96 L657.02,726.96 L657.26,723.01 L657.5,721.3 L657.74,723.01 L657.98,726.96 L658.22,732.96 L658.46,741.44 L658.7,756.1Z M641.4,756.1 L641.64,743.76 L641.88,736.62 L642.12,731.56 L642.36,728.24 L642.6,726.8 L642.84,728.24 L643.08,731.56 L643.32,736.62 L643.56,743.76 L643.8,756.1Z M660.2,756.1 L660.44,743.76 L660.68,736.62 L660.92,731.56 L661.16,728.24 L661.4,726.8 L661.64,728.24 L661.88,731.56 L662.12,736.62 L662.36,743.76 L662.6,756.1Z M637.5,756.1 L637.74,745.4 L637.98,739.21 L638.22,734.83 L638.46,731.95 L638.7,730.7 L638.94,731.95 L639.18,734.83 L639.42,739.21 L639.66,745.4 L639.9,756.1Z M664.1,756.1 L664.34,745.4 L664.58,739.21 L664.82,734.83 L665.06,731.95 L665.3,730.7 L665.54,731.95 L665.78,734.83 L666.02,739.21 L666.26,745.4 L666.5,756.1Z M633.7,756.1 L633.94,746.83 L634.18,741.47 L634.42,737.68 L634.66,735.18 L634.9,734.1 L635.14,735.18 L635.38,737.68 L635.62,741.47 L635.86,746.83 L636.1,756.1Z M667.9,756.1 L668.14,746.83 L668.38,741.47 L668.62,737.68 L668.86,735.18 L669.1,734.1 L669.34,735.18 L669.58,737.68 L669.82,741.47 L670.06,746.83 L670.3,756.1Z" fill="#48a94a"/>
<path d="M647.4,756.1 L647.86,751.99 L648.32,747.79 L648.78,743.49 L649.24,739.06 L649.7,734.48 L650.16,729.71 L650.62,724.69 L651.08,719.32 L651.54,713.35 L652,705.3 L652.46,713.35 L652.92,719.32 L653.38,724.69 L653.84,729.71 L654.3,734.48 L654.76,739.06 L655.22,743.49 L655.68,747.79 L656.14,751.99 L656.6,756.1Z M650.6,756.1 L650.88,736.7 L651.16,724.23 L651.44,714.92 L651.72,708.42 L652,705.3 L652.28,708.42 L652.56,714.92 L652.84,724.23 L653.12,736.7 L653.4,756.1Z M644.65,756.1 L645.04,744.04 L645.43,737.48 L645.82,732.8 L646.21,729.61 L646.6,728.1 L646.99,729.61 L647.38,732.8 L647.77,737.48 L648.16,744.04 L648.55,756.1Z M655.45,756.1 L655.84,744.04 L656.23,737.48 L656.62,732.8 L657.01,729.61 L657.4,728.1 L657.79,729.61 L658.18,732.8 L658.57,737.48 L658.96,744.04 L659.35,756.1Z M640.75,756.1 L641.14,745.93 L641.53,740.4 L641.92,736.46 L642.31,733.77 L642.7,732.5 L643.09,733.77 L643.48,736.46 L643.87,740.4 L644.26,745.93 L644.65,756.1Z M659.35,756.1 L659.74,745.93 L660.13,740.4 L660.52,736.46 L660.91,733.77 L661.3,732.5 L661.69,733.77 L662.08,736.46 L662.47,740.4 L662.86,745.93 L663.25,756.1Z M636.85,756.1 L637.24,747.4 L637.63,742.67 L638.02,739.29 L638.41,736.99 L638.8,735.9 L639.19,736.99 L639.58,739.29 L639.97,742.67 L640.36,747.4 L640.75,756.1Z M663.25,756.1 L663.64,747.4 L664.03,742.67 L664.42,739.29 L664.81,736.99 L665.2,735.9 L665.59,736.99 L665.98,739.29 L666.37,742.67 L666.76,747.4 L667.15,756.1Z M632.95,756.1 L633.34,748.82 L633.73,744.86 L634.12,742.04 L634.51,740.11 L634.9,739.2 L635.29,740.11 L635.68,742.04 L636.07,744.86 L636.46,748.82 L636.85,756.1Z M667.15,756.1 L667.54,748.82 L667.93,744.86 L668.32,742.04 L668.71,740.11 L669.1,739.2 L669.49,740.11 L669.88,742.04 L670.27,744.86 L670.66,748.82 L671.05,756.1Z" fill="#a3c4e3"/>
<polygon points="633.3,756.1 633.3,748.5 637.5,742.7 641.5,737.6 645,731.6 647.5,726.6 649.2,720.4 650.8,712.1 652,705.3 652,705.3 653.2,712.1 654.8,720.4 656.5,726.6 659,731.6 662.5,737.6 666.5,742.7 670.7,748.5 670.7,756.1" fill="#a3c4e3"/>
<text x="658.8" y="712" fill="#a3c4e3" stroke="#a3c4e3" font-size="9.9">C/A, SAIF</text>
<text x="658.8" y="722.9" fill="#a3c4e3" stroke="#a3c4e3" font-size="9.9">BPSK(1)</text>
<text x="676" y="735" fill="#49a84c" stroke="#49a84c" font-size="9.9">L1C-I</text>
<text x="676" y="746.4" fill="#49a84c" stroke="#49a84c" font-size="9.9">BOC(1,1)</text>
<text x="89.4" y="798.6" fill="#1a1a1a" stroke="#1a1a1a" font-size="9.9">1176.45 Mhz</text>
<path d="M114.8,855.7 L115.11,837.4 L115.42,827.11 L115.74,819.29 L116.05,813.17 L116.36,808.44 L116.67,804.95 L116.99,802.7 L117.3,801.8 L117.61,802.7 L117.92,804.95 L118.24,808.44 L118.55,813.17 L118.86,819.29 L119.17,827.11 L119.49,837.4 L119.8,855.7Z M112.5,855.7 L112.8,842.51 L113.1,831.22 L113.4,823.5 L113.7,831.22 L114,842.51 L114.3,855.7Z M119.6,855.7 L119.9,842.79 L120.2,831.75 L120.5,824.2 L120.8,831.75 L121.1,842.79 L121.4,855.7Z" fill="#4db251"/>
<path d="M100,855.7 L100.47,838.11 L100.95,830.78 L101.42,825.6 L101.9,821.7 L102.38,818.72 L102.85,816.46 L103.33,814.81 L103.8,813.71 L104.28,813.09 L104.75,812.9 L105.22,813.09 L105.7,813.71 L106.17,814.81 L106.65,816.46 L107.12,818.72 L107.6,821.7 L108.08,825.6 L108.55,830.78 L109.03,838.11 L109.5,855.7Z M125.5,855.7 L125.98,838.11 L126.47,830.78 L126.95,825.6 L127.44,821.7 L127.92,818.72 L128.41,816.46 L128.89,814.81 L129.38,813.71 L129.87,813.09 L130.35,812.9 L130.83,813.09 L131.32,813.71 L131.81,814.81 L132.29,816.46 L132.77,818.72 L133.26,821.7 L133.75,825.6 L134.23,830.78 L134.71,838.11 L135.2,855.7Z M109.7,855.7 L110.08,841.71 L110.45,835.67 L110.83,831.72 L111.2,829.14 L111.58,827.68 L111.95,827.2 L112.33,827.68 L112.7,829.14 L113.08,831.72 L113.45,835.67 L113.83,841.71 L114.2,855.7Z M115.3,855.7 L115.68,842.54 L116.07,836.86 L116.45,833.15 L116.83,830.73 L117.22,829.35 L117.6,828.9 L117.98,829.35 L118.37,830.73 L118.75,833.15 L119.13,836.86 L119.52,842.54 L119.9,855.7Z M120.1,855.7 L120.49,841.61 L120.88,835.53 L121.27,831.55 L121.67,828.96 L122.06,827.48 L122.45,827 L122.84,827.48 L123.23,828.96 L123.62,831.55 L124.02,835.53 L124.41,841.61 L124.8,855.7Z" fill="#dc332e"/>
<rect x="100" y="854.8" width="35.2" height="0.9" fill="#dc332e"/>
<text x="137.1" y="812.3" fill="#4db251" stroke="#4db251" font-size="9.9">IRNSS SPS</text>
<text x="137.1" y="823.5" fill="#4db251" stroke="#4db251" font-size="9.9">BPSK(1)</text>
<text x="140.4" y="835.3" fill="#dc332e" stroke="#dc332e" font-size="9.9">IRNSS RS</text>
<text x="140.4" y="846.2" fill="#dc332e" stroke="#dc332e" font-size="9.9">BOC(5,2)</text>
</svg>
</body></html>
